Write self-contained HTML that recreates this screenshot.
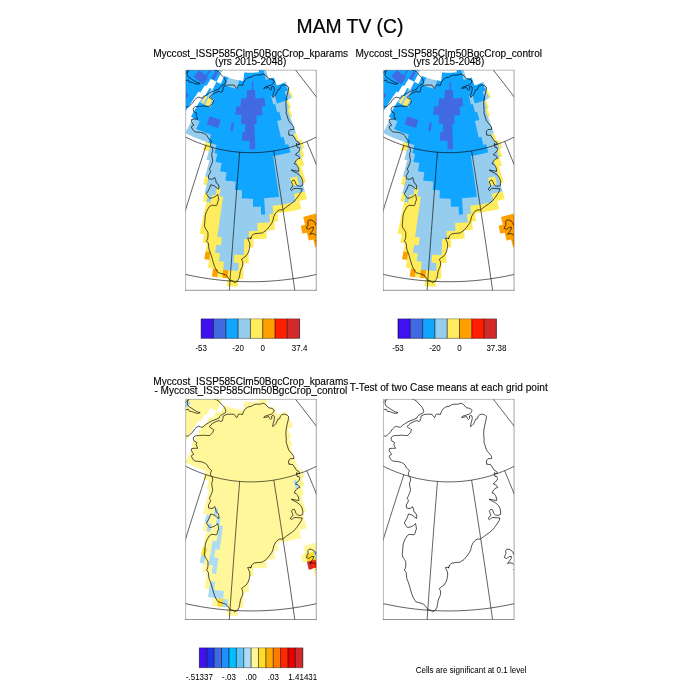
<!DOCTYPE html>
<html><head><meta charset="utf-8"><title>MAM TV (C)</title>
<style>html,body{margin:0;padding:0;background:#fff;overflow:hidden}svg{display:block}text{font-family:'Liberation Sans', sans-serif;fill:#000}</style>
</head><body>
<svg width="700" height="700" viewBox="0 0 700 700">
<rect width="700" height="700" fill="#fff"/>
<defs>
<clipPath id="clip"><rect x="0" y="0" width="130.6" height="220.1"/></clipPath>
<clipPath id="clipf"><rect x="0.3" y="0" width="130.30" height="220.1"/></clipPath>
<g id="lines" fill="none" stroke="#000" stroke-width="0.62" stroke-linejoin="round">
<g clip-path="url(#clip)">
<path d="M64.67 -54.30 L54.98 -46.11 L45.41 -37.90 L35.94 -29.66 L26.57 -21.41 L17.29 -13.13 L8.12 -4.83 L-0.97 3.50 L-9.96 11.86 L-18.87 20.24 L-27.69 28.65 L-36.43 37.10 L-45.09 45.58 L-53.68 54.09 L-62.19 62.63 L-70.62 71.21 L-78.99 79.83 L-87.29 88.49 L-95.52 97.19 L-103.68 105.94 L-111.78 114.73 L-119.83 123.56 L-127.81 132.44 L-135.73 141.38 L-143.60 150.36 L-151.42 159.40 L-159.18 168.49 L-166.89 177.64 L-174.55 186.85 L-182.16 196.12 L-189.73 205.46 M-10.90 60.75 L-14.83 67.10 L-18.73 73.44 L-22.60 79.78 L-26.44 86.12 L-30.26 92.46 L-34.05 98.79 L-37.81 105.12 L-41.55 111.45 L-45.26 117.78 L-48.95 124.11 L-52.61 130.44 L-56.25 136.78 L-59.87 143.11 L-63.46 149.45 L-67.03 155.79 L-70.58 162.13 L-74.10 168.48 L-77.61 174.84 L-81.09 181.19 L-84.55 187.56 L-88.00 193.93 L-91.42 200.31 L-94.82 206.69 L-98.20 213.08 L-101.57 219.49 L-104.91 225.90 L-108.24 232.32 L-111.55 238.75 L-114.84 245.19 L-118.12 251.65 M20.40 75.33 L18.12 82.34 L15.85 89.34 L13.59 96.33 L11.36 103.29 L9.15 110.24 L6.95 117.18 L4.77 124.11 L2.61 131.02 L0.47 137.91 L-1.66 144.80 L-3.77 151.68 L-5.87 158.54 L-7.95 165.40 L-10.01 172.24 L-12.06 179.08 L-14.10 185.92 L-16.12 192.74 L-18.12 199.56 L-20.12 206.38 L-22.09 213.18 L-24.06 219.99 L-26.01 226.79 L-27.95 233.59 L-29.87 240.39 L-31.79 247.19 L-33.69 253.99 L-35.57 260.78 L-37.45 267.58 L-39.31 274.38 L-41.17 281.19 M53.99 82.05 L53.42 89.37 L52.84 96.67 L52.28 103.94 L51.71 111.19 L51.16 118.42 L50.61 125.62 L50.06 132.81 L49.51 139.98 L48.98 147.13 L48.44 154.26 L47.91 161.38 L47.39 168.48 L46.87 175.57 L46.35 182.64 L45.83 189.70 L45.33 196.75 L44.82 203.78 L44.32 210.80 L43.82 217.82 L43.33 224.82 L42.84 231.82 L42.35 238.80 L41.87 245.78 L41.39 252.76 L40.91 259.73 L40.43 266.69 L39.96 273.65 L39.50 280.60 L39.03 287.56 L38.57 294.51 M88.15 80.70 L89.30 87.96 L90.45 95.20 L91.58 102.41 L92.70 109.60 L93.81 116.78 L94.92 123.93 L96.01 131.07 L97.10 138.18 L98.17 145.28 L99.24 152.37 L100.30 159.44 L101.35 166.49 L102.39 173.53 L103.43 180.56 L104.45 187.58 L105.47 194.58 L106.48 201.57 L107.48 208.56 L108.48 215.53 L109.47 222.50 L110.45 229.45 L111.42 236.40 L112.39 243.35 L113.35 250.29 L114.31 257.22 L115.25 264.15 L116.19 271.08 L117.13 278.00 L118.06 284.93 L118.98 291.85 M121.17 71.32 L124.02 78.16 L126.84 84.98 L129.64 91.79 L132.42 98.58 L135.18 105.37 L137.91 112.14 L140.62 118.90 L143.32 125.66 L145.99 132.40 L148.64 139.14 L151.28 145.87 L153.89 152.59 L156.49 159.31 L159.07 166.02 L161.63 172.72 L164.17 179.42 L166.69 186.12 L169.20 192.81 L171.69 199.51 L174.16 206.20 L176.62 212.89 L179.06 219.58 L181.48 226.27 L183.89 232.96 L186.29 239.65 L188.67 246.35 L191.03 253.04 L193.38 259.75 L195.72 266.45 L198.04 273.16 M66.01 -54.18 L74.13 -44.44 L82.14 -34.72 L90.04 -25.02 L97.84 -15.33 L105.55 -5.66 L113.16 4.01 L120.68 13.67 L128.11 23.32 L135.45 32.97 L142.71 42.62 L149.88 52.26 L156.98 61.91 L164.00 71.56 L170.95 81.21 L177.82 90.88 L184.63 100.55 L191.36 110.23 L198.03 119.93 L204.64 129.65 L211.18 139.38 L217.66 149.13 L224.08 158.90 L230.45 168.70 L236.76 178.52 L243.01 188.37 L249.22 198.25 L255.37 208.16 L261.47 218.11 L267.52 228.10 L273.53 238.13 M176.91 30.01 L182.79 34.89 L188.64 39.80 L194.46 44.72 L200.26 49.66 L206.03 54.63 L211.77 59.61 L217.48 64.61 L223.17 69.64 L228.83 74.68 L234.47 79.75 L240.09 84.84 L245.67 89.95 L251.24 95.09 L256.78 100.24 L262.30 105.43 L267.80 110.63 L273.28 115.86 L278.73 121.12 L284.17 126.40 L289.58 131.70 L294.98 137.04 L300.35 142.39 L305.70 147.78 L311.04 153.19 L316.36 158.63 L321.65 164.10 L326.93 169.60 L332.20 175.13 L337.44 180.69 L342.67 186.28 M-163.19 104.08 L-157.22 111.06 L-151.07 117.82 L-144.75 124.35 L-138.27 130.66 L-131.63 136.73 L-124.84 142.58 L-117.91 148.19 L-110.85 153.56 L-103.66 158.71 L-96.35 163.61 L-88.93 168.28 L-81.41 172.71 L-73.78 176.90 L-66.06 180.86 L-58.26 184.57 L-50.37 188.05 L-42.41 191.29 L-34.37 194.28 L-26.28 197.04 L-18.12 199.56 L-9.92 201.84 L-1.67 203.88 L6.63 205.68 L14.96 207.24 L23.32 208.56 L31.70 209.64 L40.11 210.47 L48.53 211.07 L56.96 211.43 L65.40 211.55 L73.84 211.43 L82.27 211.07 L90.69 210.47 L99.10 209.64 L107.48 208.56 L115.84 207.24 L124.17 205.68 L132.47 203.88 L140.72 201.84 L148.92 199.56 L157.08 197.04 L165.17 194.28 L173.21 191.29 L181.17 188.05 L189.06 184.57 L196.86 180.86 L204.58 176.90 L212.21 172.71 L219.73 168.28 L227.15 163.61 L234.46 158.71 L241.65 153.56 L248.71 148.19 L255.64 142.58 L262.43 136.73 L269.07 130.66 L275.55 124.35 L281.87 117.82 L288.02 111.06 L293.99 104.08 M-53.32 20.52 L-50.52 24.40 L-47.61 28.17 L-44.58 31.83 L-41.44 35.38 L-38.20 38.82 L-34.85 42.14 L-31.41 45.34 L-27.87 48.42 L-24.24 51.38 L-20.53 54.22 L-16.74 56.93 L-12.86 59.51 L-8.92 61.95 L-4.91 64.27 L-0.83 66.45 L3.31 68.50 L7.51 70.42 L11.76 72.19 L16.06 73.83 L20.40 75.33 L24.79 76.68 L29.21 77.90 L33.66 78.98 L38.14 79.91 L42.65 80.70 L47.18 81.35 L51.72 81.85 L56.27 82.21 L60.83 82.43 L65.40 82.50 L69.97 82.43 L74.53 82.21 L79.08 81.85 L83.62 81.35 L88.15 80.70 L92.66 79.91 L97.14 78.98 L101.59 77.90 L106.01 76.68 L110.40 75.33 L114.74 73.83 L119.04 72.19 L123.29 70.42 L127.49 68.50 L131.63 66.45 L135.71 64.27 L139.72 61.95 L143.66 59.51 L147.54 56.93 L151.33 54.22 L155.04 51.38 L158.67 48.42 L162.21 45.34 L165.65 42.14 L169.00 38.82 L172.24 35.38 L175.38 31.83 L178.41 28.17 L181.32 24.40 L184.12 20.52"/>
<path d="M3.55 -0.10 L2.05 1.60 L1.55 4.60 L2.55 6.60 L5.55 8.60 L8.55 10.60 L11.55 12.40 L14.55 13.30 L11.55 14.10 L8.55 13.10 L6.05 12.10 L4.05 12.10 L2.75 9.80 L0.15 10.40 M28.55 -0.10 L31.05 0.40 L33.55 2.10 L35.55 4.60 L38.05 7.10 L39.55 9.60 L40.25 12.10 L39.55 13.60 L37.05 14.80 L35.05 16.10 L34.05 17.10 L33.55 18.60 L30.55 19.90 L25.55 21.80 L22.55 23.60 L19.55 25.60 L17.05 27.80 L15.05 27.60 L13.05 26.90 L11.05 27.80 L9.05 29.60 L7.05 32.60 L5.05 34.60 L2.55 36.80 L1.05 36.60 L0.15 35.90 M64.55 6.90 L62.05 7.80 L60.05 9.10 L58.55 11.10 L57.35 13.60 L57.05 15.10 L55.05 14.80 L53.05 14.60 L52.05 16.10 L51.25 18.40 L50.05 17.10 L48.55 14.90 L45.55 14.80 L41.55 14.90 L39.55 15.60 L37.55 16.80 L37.35 19.10 L36.55 21.60 L35.05 22.10 L33.55 21.10 L30.55 22.10 L27.55 23.60 L25.05 25.60 L23.75 27.40 L25.05 28.40 L27.05 29.40 L28.05 30.40 L27.05 33.10 L25.55 34.80 L24.05 36.10 L21.05 36.10 L18.05 35.80 L14.05 36.10 L10.05 36.30 L8.05 37.60 L7.55 39.60 L8.55 41.80 L10.55 42.60 L11.35 43.40 L10.35 44.80 L11.05 46.60 L12.05 48.90 L9.05 48.90 L6.05 49.10 L5.75 51.10 L7.05 53.60 L8.35 54.80 L6.55 55.60 L5.75 56.80 L7.05 59.60 L9.05 61.60 L11.55 61.90 L14.55 62.10 L18.05 63.10 L20.55 64.60 L21.55 65.60 L23.05 68.60 L26.05 71.10 L25.05 73.10 L24.85 75.60 L26.55 77.60 L27.25 80.60 L26.05 83.60 L26.35 87.10 L27.05 90.10 L26.35 93.10 L25.05 96.10 L23.75 99.10 L25.05 101.10 L24.05 103.60 L22.75 105.60 L23.05 108.60 L25.55 109.10 L28.05 108.60 L29.05 107.10 L30.05 109.60 L30.55 112.60 L32.55 114.10 L33.35 116.60 L33.05 119.10 L31.05 117.60 L28.55 115.60 L25.05 114.60 L24.05 117.60 L22.55 120.60 L20.85 123.60 L22.05 125.60 L24.05 128.10 L27.05 127.60 L30.05 126.10 L32.05 124.10 L32.55 126.60 L33.05 129.60 L32.05 131.60 L31.55 134.10 L30.55 135.60 L28.55 135.10 L25.55 135.10 L23.55 136.60 L22.05 139.10 L20.75 141.60 L19.75 144.60 L19.35 148.10 L19.25 151.60 L18.75 155.10 L19.35 157.60 L21.05 160.10 L22.25 162.10 L22.35 165.60 L22.05 168.60 L20.85 170.60 L22.75 173.10 L23.05 176.60 L23.35 179.10 L24.55 182.10 L25.75 185.60 L26.75 189.10 L27.75 192.60 L28.75 195.60 L30.05 198.60 L31.55 201.10 L32.75 202.60 L35.05 203.10 L37.55 203.80 L40.05 204.80 L41.55 206.10 L43.05 208.10 L44.35 210.10 L46.05 210.60 L47.55 211.10 L49.05 212.60 L50.55 211.60 L52.05 210.60 L53.35 208.10 L54.05 205.10 L54.55 201.60 L55.55 198.60 L56.75 196.10 L57.25 193.60 L56.85 191.10 L55.85 189.10 L58.05 187.40 L60.55 185.60 L62.55 182.60 L63.55 179.60 L64.25 175.60 L64.05 172.60 L63.05 170.60 L62.05 168.10 L65.55 167.80 L64.55 168.60 L65.55 168.10 L66.05 165.60 L68.55 163.60 L72.55 163.10 L76.55 162.80 L80.55 160.10 L83.55 156.60 L86.05 153.10 L87.35 150.10 L88.05 146.60 L89.55 143.60 L91.55 141.10 L93.55 139.80 L97.05 139.60 L101.05 136.60 L104.55 134.10 L106.05 133.10 L108.55 131.10 L111.05 128.10 L113.55 124.60 L115.55 121.60 L116.55 118.60 L113.55 118.40 L110.55 118.10 L108.05 118.40 L106.05 120.40 L104.85 119.40 L105.55 117.60 L107.35 116.10 L106.85 114.10 L105.85 111.80 L107.05 110.10 L108.55 109.90 L109.55 111.60 L110.35 114.10 L112.05 115.60 L114.55 116.10 L117.05 115.10 L117.25 112.60 L116.75 109.60 L115.75 107.10 L114.05 105.10 L111.55 103.10 L108.55 101.60 L105.55 99.80 L107.55 100.10 L110.55 100.80 L113.25 101.10 L113.05 98.60 L112.05 96.10 L110.55 94.10 L108.55 93.60 L109.05 92.60 L110.55 90.10 L112.55 88.60 L114.25 88.10 L113.05 86.10 L111.55 85.10 L109.75 84.60 L111.55 82.60 L113.55 81.10 L114.05 79.10 L113.35 77.10 L111.55 77.10 L110.85 75.10 L111.05 73.10 L112.05 74.40 L114.05 73.60 L112.55 71.60 L111.05 71.10 L110.05 69.60 L108.55 67.10 L107.05 65.10 L105.05 65.10 L103.05 64.60 L103.55 64.60 L102.85 62.60 L103.35 60.60 L104.55 59.30 L106.55 59.30 L108.25 59.10 L108.05 57.10 L107.05 55.40 L105.05 53.10 L103.05 50.60 L102.35 48.60 L101.35 45.10 L100.35 42.60 L100.75 40.60 L100.35 36.60 L100.25 32.60 L100.75 28.60 L101.55 24.60 L102.55 20.60 L103.05 17.10 L101.05 15.40 L99.05 14.80 L96.55 15.10 L94.75 16.60 L94.05 19.10 L92.35 19.60 L91.05 22.60 L90.05 24.60 L88.55 26.10 L87.05 27.10 L87.35 24.60 L88.25 21.60 L88.85 19.10 L88.55 16.80 L87.35 15.90 L86.05 16.60 L86.05 19.10 L85.05 20.10 L84.05 19.10 L83.05 17.10 L80.55 17.80 L78.05 18.10 L79.55 16.60 L81.55 16.10 L83.55 15.40 L86.05 14.60 L87.75 13.10 L88.55 11.10 L87.75 9.80 L85.55 8.80 L83.05 8.40 L81.55 6.60 L79.55 4.80 L77.55 3.80 L74.55 4.80 L71.55 4.80 L68.55 5.10 L66.55 6.40 L64.55 7.40Z M130.25 155.10 L129.55 153.10 L128.05 151.10 L125.55 149.80 L123.35 149.80 L122.05 151.60 L122.55 154.10 L121.55 156.10 L120.75 158.10 L123.05 159.10 L126.05 157.10 L128.05 157.10 L127.55 159.10 L126.05 161.60 L124.05 164.10 L126.55 163.40 L128.55 163.80 L130.25 165.10 M129.85 169.90 L130.25 170.40" stroke-width="0.68"/>
</g>
<path d="M0 220.1V0H130.6" stroke-width="0.28" stroke-linecap="square"/><path d="M130.6 0V220.1" stroke-width="0.36"/><path d="M0 220.1H130.6" stroke-width="0.42" stroke-linecap="square"/>
</g>
<g id="fillA" clip-path="url(#clipf)"><mask id="mA" maskUnits="userSpaceOnUse" x="-2" y="-2" width="134.6" height="224.1"><path d="M-0.38 22.03 -0.38 22.03 -0.38 22.03 -1.00 22.79 -1.00 32.39 -0.26 32.93 -0.26 32.93 -0.26 32.93 -1.00 33.98 -1.00 42.61 3.59 35.54 8.27 28.37 13.00 21.20 13.82 21.73 14.65 22.26 19.26 14.98 20.01 15.46 20.78 15.92 25.28 8.54 25.96 8.96 26.65 9.36 26.65 9.36 26.65 9.36 26.66 9.37 26.66 9.36 27.35 9.76 28.04 10.15 28.04 10.15 28.04 10.16 28.05 10.16 28.05 10.16 28.74 10.54 29.44 10.92 29.44 10.92 29.45 10.92 29.45 10.92 29.45 10.92 30.16 11.29 30.86 11.65 27.00 19.35 26.21 18.95 25.42 18.54 24.64 18.13 23.85 17.70 19.71 25.23 18.85 24.76 18.00 24.27 13.73 31.71 13.73 31.71 13.73 31.72 13.73 31.72 13.73 31.72 9.51 39.14 9.51 39.14 9.50 39.14 9.50 39.14 9.50 39.14 5.31 46.55 6.40 47.16 7.49 47.75 7.49 47.75 7.49 47.75 3.49 55.22 3.49 55.21 3.49 55.22 3.49 55.22 3.49 55.22 -0.47 62.68 0.78 63.34 2.03 63.98 2.03 63.98 2.04 63.98 2.04 63.98 2.04 63.98 3.30 64.61 4.56 65.22 4.56 65.22 4.56 65.22 4.57 65.22 4.57 65.22 5.84 65.82 7.11 66.41 7.11 66.41 7.11 66.41 7.12 66.41 7.12 66.41 8.40 66.99 9.68 67.55 9.68 67.55 9.69 67.55 9.69 67.55 9.69 67.55 10.98 68.10 12.27 68.63 12.27 68.63 12.28 68.64 12.28 68.64 12.28 68.64 13.58 69.16 14.88 69.67 14.88 69.67 14.89 69.67 14.89 69.67 14.89 69.67 16.20 70.17 17.51 70.65 17.51 70.65 17.51 70.65 17.52 70.65 17.52 70.65 18.84 71.12 20.16 71.57 20.16 71.57 20.16 71.57 17.48 79.49 18.89 79.96 20.30 80.41 20.30 80.41 20.30 80.41 20.31 80.42 20.31 80.42 21.72 80.85 23.13 81.28 23.13 81.28 23.13 81.28 20.80 89.26 22.31 89.69 23.81 90.11 23.81 90.11 23.81 90.11 21.66 98.10 21.66 98.10 21.65 98.10 21.65 98.11 21.65 98.11 19.52 106.08 19.52 106.08 19.52 106.08 19.52 106.09 19.52 106.09 17.40 114.04 19.15 114.50 20.90 114.93 20.90 114.93 20.90 114.93 18.96 122.89 18.96 122.89 18.96 122.89 18.96 122.90 18.96 122.90 17.03 130.85 18.94 131.30 20.85 131.73 20.85 131.73 20.85 131.73 19.10 139.68 19.10 139.68 19.09 139.68 19.09 139.69 19.09 139.69 17.36 147.61 17.36 147.61 17.36 147.62 17.36 147.62 17.36 147.62 15.63 155.53 15.63 155.53 15.63 155.54 15.63 155.54 15.63 155.54 13.92 163.45 16.14 163.92 18.35 164.36 18.35 164.36 18.35 164.36 16.81 172.27 19.11 172.71 21.40 173.12 21.40 173.12 21.40 173.12 20.01 181.03 20.01 181.03 20.01 181.03 20.01 181.04 20.01 181.04 18.63 188.94 21.08 189.35 23.52 189.74 23.52 189.74 23.52 189.74 22.31 197.65 24.83 198.03 27.35 198.38 27.35 198.38 27.35 198.38 26.28 206.29 28.88 206.63 31.48 206.94 31.48 206.94 31.48 206.94 31.49 206.94 31.49 206.94 34.08 207.23 36.68 207.50 36.68 207.50 36.69 207.50 36.69 207.50 36.69 207.50 39.29 207.74 41.89 207.97 41.89 207.97 41.89 207.97 41.26 215.90 43.94 216.10 46.62 216.28 46.62 216.28 46.62 216.28 46.63 216.28 46.63 216.28 49.30 216.43 51.99 216.56 52.34 208.62 54.95 208.72 57.57 208.80 57.78 200.84 57.99 192.87 60.46 192.92 62.93 192.95 63.01 184.95 63.08 176.95 65.40 176.96 67.73 176.95 67.66 168.92 67.66 168.92 67.66 168.92 69.90 168.89 72.15 168.83 72.15 168.83 72.15 168.83 72.16 168.83 72.16 168.83 74.40 168.76 76.65 168.67 76.65 168.67 76.65 168.67 76.66 168.67 76.66 168.67 78.90 168.55 81.16 168.42 80.63 160.38 80.63 160.38 80.63 160.38 82.80 160.23 84.97 160.06 84.97 160.06 84.97 160.06 84.98 160.06 84.98 160.06 87.14 159.87 89.32 159.66 88.49 151.62 88.49 151.62 88.49 151.62 90.58 151.40 92.67 151.15 91.69 143.11 91.69 143.11 91.69 143.11 93.70 142.85 95.70 142.58 95.70 142.58 95.71 142.57 95.71 142.57 95.71 142.57 97.72 142.28 99.72 141.97 99.72 141.97 99.72 141.97 99.73 141.97 99.73 141.97 101.73 141.63 103.72 141.28 103.72 141.28 103.73 141.28 103.73 141.28 103.73 141.28 105.73 140.91 107.72 140.52 107.72 140.52 107.72 140.52 107.73 140.52 107.73 140.52 109.71 140.11 111.70 139.69 111.70 139.69 111.70 139.69 111.71 139.69 111.71 139.69 113.69 139.24 115.67 138.78 113.77 130.85 113.77 130.85 113.77 130.85 115.66 130.38 117.56 129.89 117.56 129.89 117.56 129.89 117.57 129.89 117.57 129.89 119.46 129.39 121.35 128.86 119.12 120.98 119.12 120.98 119.12 120.98 119.12 120.97 119.12 120.97 116.88 113.08 116.88 113.08 116.88 113.08 118.60 112.58 120.34 112.06 117.91 104.18 117.91 104.18 117.91 104.17 117.91 104.17 117.91 104.17 115.47 96.28 115.47 96.28 115.47 96.28 117.03 95.78 118.60 95.27 115.97 87.39 115.97 87.39 115.97 87.39 117.45 86.89 118.94 86.37 116.13 78.52 116.13 78.52 116.13 78.52 117.52 78.01 118.91 77.49 115.91 69.66 114.60 70.16 113.29 70.64 110.43 62.75 110.43 62.75 110.42 62.75 110.42 62.74 110.42 62.74 107.53 54.84 107.53 54.84 107.53 54.83 107.53 54.83 107.53 54.83 104.61 46.89 104.61 46.89 104.61 46.89 105.68 46.49 106.76 46.08 103.65 38.17 103.65 38.17 103.65 38.17 104.63 37.77 105.62 37.37 102.31 29.49 102.31 29.49 102.31 29.49 103.20 29.11 104.09 28.72 104.09 28.72 104.09 28.72 104.10 28.72 104.10 28.72 104.98 28.32 105.86 27.91 105.86 27.91 105.87 27.90 105.87 27.90 105.87 27.90 106.75 27.48 107.63 27.05 103.80 19.36 103.80 19.36 103.80 19.36 103.80 19.35 103.80 19.35 99.93 11.64 99.21 12.00 98.49 12.35 97.77 12.69 97.04 13.02 96.32 13.34 95.58 13.66 94.85 13.97 94.11 14.27 93.37 14.57 92.63 14.85 91.88 15.13 91.13 15.40 88.23 7.26 87.56 7.50 86.89 7.73 86.22 7.95 85.55 8.16 84.87 8.37 84.19 8.57 83.51 8.76 82.84 8.94 80.60 0.57 80.60 0.57 80.60 0.57 80.60 0.56 80.60 0.56 80.18 -1.00 72.94 -1.00 73.36 2.02 72.75 2.10 72.14 2.18 71.53 2.24 70.92 2.31 70.31 2.36 69.70 2.41 69.08 2.45 68.47 2.49 67.86 2.51 67.24 2.54 66.63 2.55 66.01 2.56 65.40 2.57 64.79 2.56 64.17 2.55 63.56 2.54 62.94 2.51 62.33 2.49 61.72 2.45 61.10 2.41 60.49 2.36 59.88 2.31 59.27 2.24 58.65 2.18 57.66 10.78 56.96 10.70 56.26 10.61 55.57 10.51 54.87 10.40 54.17 10.29 53.48 10.17 52.78 10.04 52.09 9.91 51.40 9.76 50.71 9.61 50.02 9.46 49.34 9.29 48.65 9.12 47.97 8.94 47.29 8.76 46.61 8.57 45.93 8.37 45.25 8.16 44.58 7.95 43.91 7.73 43.24 7.50 42.57 7.26 41.91 7.02 41.25 6.77 40.59 6.52 39.93 6.26 39.28 5.99 38.62 5.71 35.21 13.66 34.48 13.34 33.76 13.02 33.03 12.69 32.31 12.35 31.59 12.00 30.88 11.65 34.78 3.92 37.28 -1.00 -1.00 -1.00 -1.00 21.53ZM123.70 145.12 121.66 145.66 119.61 146.18 117.55 146.68 119.42 154.57 117.30 155.06 115.16 155.54 116.87 163.45 119.08 162.96 121.28 162.46 123.12 170.32 125.40 169.78 127.66 169.21 129.63 177.04 131.60 176.53 131.60 165.82 130.07 160.22 130.07 160.22 130.07 160.22 131.60 159.79 131.60 149.39 129.82 143.39 127.78 143.99 125.74 144.57Z" fill="#fff" fill-rule="evenodd"/></mask><g mask="url(#mA)"><rect x="-1" y="-1" width="132.6" height="222.1" fill="#FFA000"/><path d="M20.01 181.04 22.39 181.44 24.75 181.82 24.75 181.82 24.75 181.82 23.53 189.73 23.53 189.73 23.53 189.74 23.52 189.74 22.93 189.65 22.93 189.65 21.62 198.16 24.75 198.62 26.67 198.89 26.67 198.89 27.27 198.97 27.35 198.38 27.35 198.38 27.36 198.38 27.36 198.38 29.88 198.71 32.40 199.02 32.40 199.02 32.40 199.02 31.48 206.94 30.88 206.87 30.81 207.47 34.02 207.83 37.23 208.16 37.29 207.56 36.69 207.50 37.48 199.57 40.00 199.80 42.53 200.02 42.53 200.02 42.53 200.02 41.89 207.96 41.89 207.96 41.89 207.96 41.89 207.97 41.89 207.97 41.30 207.91 41.30 207.92 40.61 216.45 43.90 216.70 45.98 216.83 45.98 216.84 46.59 216.88 49.27 217.03 52.56 217.19 52.91 209.24 54.93 209.32 58.15 209.42 58.38 200.85 58.58 193.48 60.45 193.52 63.53 193.56 63.61 184.96 63.67 177.55 65.40 177.56 68.34 177.55 68.26 169.51 69.91 169.49 71.57 169.45 71.57 169.45 72.18 169.43 74.43 169.36 76.08 169.29 76.08 169.30 76.69 169.27 78.94 169.15 81.79 168.98 81.27 160.94 82.85 160.83 84.42 160.71 84.42 160.71 85.03 160.66 87.20 160.47 89.98 160.20 89.15 152.15 90.65 151.99 93.34 151.68 92.36 143.63 93.78 143.45 95.19 143.25 95.19 143.25 95.80 143.17 97.81 142.87 99.22 142.65 99.22 142.66 99.83 142.56 101.83 142.23 103.24 141.98 103.24 141.98 103.84 141.87 105.84 141.50 107.25 141.23 107.25 141.23 107.84 141.11 109.84 140.70 111.24 140.40 111.24 140.40 111.84 140.27 113.82 139.83 116.40 139.22 114.49 131.29 115.81 130.96 117.13 130.62 117.13 130.63 117.72 130.47 119.61 129.97 122.09 129.28 119.87 121.40 119.87 121.40 119.70 120.81 117.62 113.49 118.77 113.16 121.09 112.46 118.66 104.58 118.66 104.58 118.48 103.99 116.22 96.67 117.21 96.35 119.36 95.65 116.73 87.77 117.65 87.46 119.70 86.74 116.89 78.88 117.73 78.57 119.69 77.84 116.26 68.88 114.39 69.59 113.65 69.87 111.20 63.11 111.20 63.11 110.99 62.54 108.30 55.20 108.31 55.20 108.09 54.62 105.38 47.25 105.90 47.05 107.54 46.42 104.42 38.50 104.86 38.33 106.40 37.69 103.09 29.81 103.44 29.66 103.79 29.51 103.79 29.51 104.34 29.26 105.23 28.86 105.58 28.70 105.58 28.70 106.13 28.44 107.01 28.02 108.44 27.33 104.61 19.63 104.61 19.63 104.34 19.08 100.20 10.84 98.95 11.46 98.23 11.80 97.52 12.14 96.80 12.47 96.07 12.79 95.35 13.11 94.62 13.42 93.89 13.72 93.15 14.01 92.41 14.29 91.67 14.57 91.50 14.63 88.59 6.50 87.36 6.93 86.70 7.16 86.03 7.38 85.37 7.59 84.70 7.79 84.03 7.99 83.35 8.18 83.26 8.21 81.34 1.00 81.34 1.00 81.18 0.41 80.64 -1.60 72.26 -1.60 72.68 1.51 72.68 1.51 72.08 1.58 71.47 1.65 70.87 1.71 70.26 1.76 69.65 1.81 69.05 1.85 68.44 1.89 67.83 1.91 67.22 1.94 66.62 1.95 66.01 1.96 65.40 1.97 64.79 1.96 64.18 1.95 63.58 1.94 62.97 1.91 62.36 1.89 61.75 1.85 61.15 1.81 60.54 1.76 59.93 1.71 59.33 1.65 58.12 1.51 57.13 10.11 57.04 10.10 56.34 10.01 55.65 9.91 54.96 9.81 54.27 9.70 53.58 9.58 52.90 9.45 52.21 9.32 51.52 9.18 50.84 9.03 50.16 8.87 49.48 8.71 48.80 8.54 48.12 8.36 47.45 8.18 46.77 7.99 46.10 7.79 45.43 7.59 44.77 7.38 44.10 7.16 43.44 6.93 42.78 6.70 42.12 6.46 41.46 6.21 40.81 5.96 40.16 5.70 39.51 5.43 38.31 4.92 34.90 12.87 34.73 12.79 34.00 12.47 33.28 12.14 32.57 11.80 31.85 11.46 31.69 11.38 35.32 4.19 38.26 -1.60 -1.60 -1.60 -1.60 21.81 -1.23 22.12 -1.60 22.58 -1.60 32.70 -1.09 33.07 -1.60 33.79 -1.60 44.64 4.09 35.87 8.78 28.70 13.17 22.03 13.49 22.24 14.83 23.09 19.45 15.81 19.70 15.96 20.98 16.75 25.48 9.37 25.66 9.47 25.83 9.57 25.83 9.57 26.36 9.88 27.05 10.28 27.22 10.38 27.22 10.38 27.76 10.68 28.46 11.07 28.63 11.16 28.63 11.17 29.17 11.45 29.88 11.82 30.06 11.91 26.73 18.55 26.49 18.42 25.70 18.01 24.92 17.60 23.62 16.88 19.47 24.42 19.15 24.24 17.78 23.46 13.51 30.90 13.51 30.90 13.21 31.42 9.28 38.32 9.28 38.32 8.98 38.85 4.49 46.79 6.11 47.69 6.68 47.99 3.24 54.41 3.24 54.41 2.96 54.94 -1.29 62.94 0.51 63.87 1.23 64.24 1.22 64.24 1.77 64.52 3.03 65.15 3.76 65.50 3.76 65.50 4.31 65.77 5.58 66.37 6.32 66.70 6.31 66.71 6.87 66.96 8.15 67.54 8.89 67.86 8.89 67.86 9.45 68.10 10.75 68.65 11.49 68.96 11.49 68.96 12.06 69.19 13.36 69.72 14.11 70.01 14.11 70.01 14.68 70.23 15.99 70.73 16.74 71.00 16.74 71.01 17.32 71.21 18.64 71.68 19.40 71.95 16.72 79.87 18.70 80.53 19.55 80.80 19.55 80.81 20.13 80.99 21.54 81.43 22.39 81.68 20.05 89.67 22.14 90.27 23.07 90.53 21.23 97.37 21.23 97.37 21.07 97.95 19.10 105.34 19.10 105.34 18.94 105.93 16.67 114.47 19.01 115.08 20.17 115.37 18.52 122.17 18.52 122.17 18.37 122.76 16.31 131.29 18.81 131.88 20.13 132.18 18.64 138.96 18.64 138.96 18.51 139.56 16.90 146.90 16.90 146.90 16.77 147.50 15.18 154.82 15.17 154.82 15.05 155.42 13.21 163.91 16.02 164.50 17.65 164.83 16.10 172.75 19.00 173.30 20.70 173.61 19.31 181.53 19.91 181.63 20.01 181.04ZM20.01 181.04 20.01 181.03 20.01 181.03 20.01 181.03ZM36.69 207.50 36.69 207.50 36.68 207.50 36.68 207.50ZM31.48 206.94 31.49 206.94 31.49 206.94ZM31.48 206.94 31.48 206.94 31.48 206.94Z" fill="#FFEC5C" fill-rule="evenodd"/><path d="M18.96 122.90 20.79 123.34 22.62 123.75 22.62 123.75 22.62 123.75 20.85 131.73 20.26 131.60 20.13 132.19 20.72 132.32 20.85 131.73 20.85 131.73 22.77 132.14 24.69 132.54 26.30 124.54 28.14 124.90 29.99 125.25 31.47 117.20 33.23 117.51 35.00 117.81 35.00 117.81 35.00 117.81 33.68 125.89 35.54 126.18 37.39 126.45 37.39 126.45 37.39 126.45 36.23 134.52 36.23 134.52 36.23 134.52 36.23 134.53 36.23 134.53 35.09 142.56 35.09 142.56 35.09 142.57 35.09 142.57 35.09 142.57 33.95 150.59 33.95 150.59 33.95 150.60 33.95 150.60 33.95 150.60 32.83 158.60 32.83 158.60 32.83 158.60 32.83 158.61 32.83 158.61 31.71 166.60 33.95 166.90 36.18 167.18 36.18 167.18 36.18 167.18 35.23 175.15 32.92 174.87 30.61 174.56 29.51 182.52 31.90 182.84 34.28 183.13 34.28 183.13 34.28 183.13 33.34 191.08 35.80 191.36 38.25 191.62 38.25 191.62 38.25 191.62 37.47 199.57 40.00 199.80 42.53 200.02 42.53 200.02 42.54 200.02 42.54 200.02 42.54 200.02 45.08 200.21 47.61 200.39 47.61 200.39 47.61 200.39 47.62 200.39 47.62 200.39 50.15 200.53 52.70 200.66 53.06 192.68 50.58 192.55 48.12 192.41 48.63 184.44 51.02 184.58 53.41 184.70 53.41 184.70 53.41 184.70 53.42 184.70 53.42 184.70 55.81 184.80 58.21 184.87 58.43 176.86 58.65 168.83 60.90 168.89 63.15 168.92 63.23 160.87 65.40 160.88 67.57 160.87 67.57 160.87 67.58 160.87 67.58 160.87 67.58 160.87 69.75 160.84 71.94 160.79 71.71 152.72 71.71 152.72 71.71 152.72 73.81 152.65 75.90 152.56 75.90 152.56 75.91 152.56 75.91 152.56 75.91 152.56 78.01 152.45 80.10 152.33 80.10 152.33 80.10 152.33 80.11 152.33 80.11 152.33 82.20 152.18 84.30 152.01 83.62 143.94 83.62 143.94 83.62 143.94 85.64 143.76 87.66 143.56 86.82 135.48 86.82 135.48 86.82 135.48 88.75 135.27 90.69 135.04 90.69 135.04 90.69 135.04 90.70 135.04 90.70 135.04 92.63 134.79 94.56 134.53 94.56 134.53 94.56 134.53 94.57 134.53 94.57 134.53 96.50 134.24 98.42 133.94 98.42 133.94 98.43 133.94 98.43 133.94 98.43 133.94 100.35 133.62 102.27 133.28 102.27 133.28 102.28 133.27 102.28 133.27 102.28 133.27 104.20 132.92 106.11 132.54 106.11 132.54 106.12 132.54 106.12 132.54 106.12 132.54 108.03 132.14 109.95 131.73 108.18 123.75 108.18 123.75 108.18 123.75 110.01 123.34 111.83 122.90 111.83 122.90 111.84 122.90 111.84 122.90 111.84 122.90 113.66 122.45 115.48 121.98 115.48 121.98 115.49 121.98 115.49 121.98 115.49 121.98 117.31 121.49 119.12 120.98 119.12 120.98 119.29 121.56 119.87 121.40 117.62 113.50 117.62 113.50 117.45 112.92 116.88 113.08 116.88 113.08 116.87 113.08 116.87 113.07 116.87 113.07 114.61 105.16 114.61 105.16 114.60 105.16 114.60 105.15 114.60 105.15 112.31 97.22 112.31 97.22 112.31 97.22 112.31 97.21 112.31 97.21 110.00 89.26 110.00 89.26 110.00 89.26 111.50 88.82 112.99 88.36 112.99 88.36 112.99 88.36 113.00 88.36 113.00 88.36 114.48 87.88 115.97 87.39 116.16 87.96 116.73 87.77 116.54 87.20 115.97 87.39 113.32 79.49 113.32 79.49 113.32 79.49 114.72 79.01 116.13 78.52 116.33 79.08 116.90 78.88 116.69 78.31 116.13 78.52 113.29 70.64 111.96 71.11 110.64 71.56 107.94 63.63 107.94 63.63 107.94 63.63 109.18 63.20 110.43 62.75 110.43 62.75 110.63 63.32 111.20 63.11 108.30 55.20 108.31 55.20 108.09 54.62 105.39 47.25 105.39 47.25 105.18 46.68 104.61 46.89 104.61 46.89 104.61 46.89 104.61 46.88 104.61 46.88 101.66 38.93 101.66 38.93 101.66 38.93 102.65 38.55 103.65 38.17 100.50 30.23 100.50 30.23 100.50 30.23 101.40 29.87 102.30 29.50 102.30 29.50 102.30 29.49 102.31 29.49 102.54 30.05 102.54 30.04 103.44 29.66 103.79 29.51 103.79 29.51 104.34 29.26 105.23 28.86 106.67 28.19 106.42 27.64 105.87 27.90 102.21 20.14 102.21 20.14 102.21 20.14 103.00 19.76 103.80 19.36 103.80 19.36 104.07 19.90 104.61 19.63 100.20 10.84 98.95 11.46 98.23 11.80 97.52 12.14 96.80 12.47 96.07 12.79 95.35 13.11 94.62 13.42 93.89 13.72 93.15 14.01 92.41 14.29 91.67 14.57 91.50 14.63 88.59 6.50 87.36 6.93 86.70 7.16 86.03 7.38 85.37 7.59 84.70 7.79 84.03 7.99 83.35 8.18 83.26 8.21 81.34 1.00 81.34 1.00 81.18 0.41 80.64 -1.60 72.26 -1.60 72.68 1.51 72.68 1.51 72.08 1.58 71.47 1.65 70.87 1.71 70.26 1.76 69.65 1.81 69.05 1.85 68.44 1.89 67.83 1.91 67.22 1.94 66.62 1.95 66.01 1.96 65.40 1.97 64.79 1.96 64.18 1.95 63.58 1.94 62.97 1.91 62.36 1.89 61.75 1.85 61.15 1.81 60.54 1.76 59.93 1.71 59.33 1.65 58.12 1.51 57.13 10.11 57.04 10.10 56.34 10.01 55.65 9.91 54.96 9.81 54.27 9.70 53.58 9.58 52.90 9.45 52.21 9.32 51.52 9.18 50.84 9.03 50.16 8.87 49.48 8.71 48.80 8.54 48.12 8.36 47.45 8.18 46.77 7.99 46.10 7.79 45.43 7.59 44.77 7.38 44.10 7.16 43.44 6.93 42.78 6.70 42.12 6.46 41.46 6.21 40.81 5.96 40.16 5.70 39.51 5.43 38.31 4.92 34.90 12.87 34.73 12.79 34.00 12.47 33.28 12.14 32.57 11.80 31.85 11.46 31.69 11.38 35.32 4.19 38.26 -1.60 -1.60 -1.60 -1.60 21.81 -1.23 22.12 -1.60 22.58 -1.60 32.70 -1.09 33.07 -1.60 33.79 -1.60 44.64 4.09 35.87 8.78 28.70 13.17 22.03 13.49 22.24 14.83 23.09 19.45 15.81 19.70 15.96 20.98 16.75 25.48 9.37 25.66 9.47 25.83 9.57 25.83 9.57 26.36 9.88 27.05 10.28 27.22 10.38 27.22 10.38 27.76 10.68 28.46 11.07 28.63 11.16 28.63 11.17 29.17 11.45 29.88 11.82 30.06 11.91 26.73 18.55 26.49 18.42 25.70 18.01 24.92 17.60 23.62 16.88 19.47 24.42 19.15 24.24 17.78 23.46 13.51 30.90 13.51 30.90 13.21 31.42 9.28 38.32 9.28 38.32 8.98 38.85 4.49 46.79 6.11 47.69 6.68 47.99 3.24 54.41 3.24 54.41 2.96 54.94 -1.29 62.94 0.51 63.87 1.23 64.24 1.22 64.24 1.77 64.52 3.03 65.15 3.76 65.50 3.76 65.50 4.31 65.77 5.58 66.37 6.32 66.70 6.31 66.71 6.87 66.96 8.15 67.54 8.89 67.86 8.89 67.86 9.45 68.10 10.75 68.65 11.49 68.96 11.49 68.96 12.06 69.19 13.36 69.72 14.11 70.01 14.11 70.01 14.68 70.23 15.99 70.73 16.74 71.00 16.74 71.01 17.32 71.21 18.64 71.68 19.39 71.95 19.39 71.95 19.96 72.14 20.16 71.57 20.16 71.57 20.16 71.58 20.16 71.58 21.49 72.02 22.82 72.45 22.82 72.45 22.82 72.45 22.83 72.45 22.83 72.45 24.16 72.86 25.49 73.27 25.49 73.27 25.49 73.27 23.14 81.27 23.14 81.27 23.14 81.27 23.13 81.28 22.56 81.10 22.56 81.11 20.05 89.67 22.14 90.27 23.07 90.53 21.23 97.37 21.23 97.37 21.07 97.95 18.78 106.51 19.36 106.67 19.52 106.09 19.52 106.09 21.19 106.52 22.86 106.94 22.86 106.94 22.86 106.94 20.90 114.92 20.90 114.92 20.90 114.93 20.90 114.93 20.90 114.93 20.32 114.79 20.31 114.79 18.23 123.34 18.81 123.48 18.96 122.90ZM110.43 62.75 110.42 62.74 110.42 62.74 110.42 62.75ZM19.52 106.09 19.52 106.08 19.52 106.08 19.52 106.08 21.65 98.11ZM18.96 122.90 18.96 122.89 18.96 122.89ZM18.96 122.89 18.96 122.89 18.96 122.89ZM119.12 120.97 119.12 120.97 119.12 120.98ZM109.90 114.92 108.14 115.34 106.39 115.74 104.59 107.73 104.59 107.73 104.59 107.73 106.26 107.35 107.93 106.94 107.93 106.94 107.94 106.94 107.94 106.94 107.94 106.94 109.61 106.52 111.27 106.09 113.38 114.03 111.64 114.49ZM105.87 27.90 105.87 27.90 105.86 27.91 105.86 27.91ZM99.93 11.64 103.80 19.35 103.80 19.35 103.80 19.36ZM82.84 8.94 80.60 0.57 82.84 8.94 83.51 8.76ZM73.36 2.02 72.75 2.10 73.36 2.02ZM23.18 27.06 24.05 27.48 24.93 27.90 24.93 27.90 24.93 27.90 24.94 27.91 24.94 27.91 25.82 28.32 26.70 28.72 26.70 28.72 26.70 28.72 23.23 36.52 22.27 36.08 21.30 35.64 20.34 35.18 19.39 34.72ZM20.57 25.71 21.43 26.17 21.43 26.17 21.43 26.17 17.48 33.75 16.54 33.26 15.60 32.76 19.71 25.25ZM103.65 38.17 103.65 38.17 103.87 38.73 104.43 38.51 104.20 37.94 103.65 38.17ZM113.08 70.07 113.29 70.64 113.85 70.43 113.65 69.87Z" fill="#96CDEE" fill-rule="evenodd"/><path d="M27.00 19.36 27.80 19.76 28.59 20.14 28.59 20.14 28.59 20.14 24.93 27.90 25.82 28.32 26.70 28.72 26.70 28.72 26.71 28.72 26.71 28.72 26.71 28.72 27.60 29.11 28.49 29.49 28.49 29.49 28.49 29.49 25.19 37.36 24.21 36.94 23.24 36.52 22.27 36.08 21.30 35.64 20.34 35.18 19.38 34.72 18.43 34.24 17.48 33.75 16.54 33.26 15.60 32.75 14.67 32.24 13.73 31.71 14.03 31.19 13.51 30.90 9.28 38.32 9.28 38.32 8.98 38.85 4.49 46.79 6.11 47.69 6.67 47.99 6.67 47.99 7.20 48.28 7.49 47.75 7.49 47.75 7.49 47.75 7.49 47.76 7.49 47.76 8.58 48.33 9.68 48.90 9.68 48.90 9.69 48.90 9.69 48.91 9.69 48.91 10.79 49.46 11.90 50.01 11.90 50.01 11.90 50.01 11.91 50.01 11.91 50.01 13.02 50.54 14.13 51.06 14.13 51.06 14.13 51.06 10.61 58.75 11.82 59.29 13.02 59.82 13.02 59.82 13.02 59.82 13.03 59.83 13.03 59.83 14.24 60.34 15.45 60.85 15.45 60.85 15.46 60.85 15.46 60.85 15.46 60.85 16.68 61.35 17.90 61.83 17.90 61.83 17.91 61.83 17.91 61.83 17.91 61.83 19.14 62.30 20.37 62.75 20.37 62.75 20.38 62.75 20.38 62.76 20.38 62.76 21.62 63.20 22.86 63.63 22.86 63.63 22.86 63.63 22.87 63.63 22.87 63.63 24.11 64.05 25.36 64.46 25.36 64.46 25.36 64.46 22.82 72.45 24.16 72.86 25.49 73.27 25.49 73.27 25.50 73.27 25.50 73.27 25.50 73.27 26.84 73.66 28.18 74.03 28.18 74.03 28.19 74.03 28.19 74.04 28.19 74.04 29.54 74.40 30.89 74.74 30.89 74.74 30.89 74.74 28.85 82.83 30.29 83.19 31.73 83.52 31.73 83.52 31.73 83.52 29.87 91.62 31.40 91.96 32.92 92.29 32.92 92.29 32.92 92.29 32.93 92.29 32.93 92.29 34.45 92.60 35.98 92.89 35.98 92.89 35.98 92.89 34.46 101.02 36.08 101.31 37.69 101.59 37.69 101.59 37.69 101.59 37.70 101.59 37.70 101.59 39.31 101.85 40.93 102.09 40.93 102.09 40.93 102.09 39.73 110.24 41.44 110.48 43.14 110.70 43.14 110.70 43.14 110.70 43.15 110.70 43.15 110.70 44.85 110.91 46.55 111.10 46.55 111.10 46.56 111.10 46.56 111.10 46.56 111.10 48.26 111.27 49.97 111.43 49.97 111.43 49.97 111.43 49.26 119.60 51.06 119.74 52.84 119.87 52.84 119.87 52.85 119.87 52.85 119.87 52.85 119.87 54.64 119.98 56.43 120.08 56.43 120.08 56.43 120.08 56.04 128.24 57.91 128.32 59.78 128.38 59.78 128.38 59.78 128.38 59.79 128.38 59.79 128.38 61.66 128.42 63.52 128.45 63.52 128.45 63.53 128.45 63.53 128.45 63.53 128.45 65.40 128.46 67.27 128.45 67.34 136.59 69.30 136.56 71.24 136.52 71.24 136.52 71.25 136.52 71.25 136.52 71.25 136.52 73.20 136.45 75.14 136.37 75.52 144.48 77.55 144.37 79.58 144.25 79.04 136.15 79.04 136.15 79.04 136.14 79.04 136.14 79.04 136.14 78.50 128.02 78.50 128.02 78.50 128.02 80.37 127.89 82.23 127.74 82.23 127.74 82.23 127.74 82.24 127.74 82.24 127.74 84.10 127.57 85.96 127.38 85.96 127.38 85.97 127.38 85.97 127.38 85.97 127.38 87.83 127.18 89.68 126.95 89.68 126.95 89.69 126.95 89.69 126.95 89.69 126.95 91.55 126.71 93.41 126.45 92.24 118.36 92.24 118.36 92.24 118.36 92.24 118.35 92.24 118.35 91.07 110.24 91.07 110.24 91.06 110.24 91.06 110.23 91.06 110.23 89.87 102.09 89.87 102.09 89.87 102.09 89.87 102.09 89.87 102.09 88.67 93.92 88.67 93.92 88.67 93.92 88.67 93.91 88.67 93.91 87.46 85.72 87.46 85.72 87.46 85.72 88.91 85.50 90.37 85.26 90.37 85.26 90.37 85.26 90.38 85.26 90.38 85.26 91.83 85.01 93.27 84.74 93.27 84.74 93.28 84.74 93.28 84.74 93.28 84.74 94.73 84.46 96.17 84.16 96.17 84.16 96.18 84.16 96.18 84.16 96.18 84.16 97.62 83.85 99.06 83.53 99.06 83.53 99.07 83.53 99.07 83.52 99.07 83.52 100.51 83.19 101.94 82.83 101.94 82.83 101.94 82.83 101.95 82.83 101.95 82.83 103.38 82.47 104.81 82.08 102.61 74.02 101.26 74.39 99.91 74.73 97.85 66.62 96.57 66.94 95.30 67.24 93.39 59.07 93.39 59.07 93.39 59.07 93.39 59.06 93.39 59.06 91.45 50.86 91.45 50.86 91.45 50.86 92.56 50.59 93.67 50.31 93.67 50.31 93.67 50.31 93.68 50.31 93.68 50.31 94.78 50.02 95.89 49.72 93.60 41.55 92.57 41.83 91.55 42.10 89.41 33.86 88.46 34.10 87.52 34.33 85.53 26.03 85.53 26.03 85.53 26.03 86.38 25.82 87.23 25.60 87.23 25.60 87.24 25.60 87.24 25.60 87.24 25.60 88.09 25.37 88.94 25.14 91.28 33.36 92.22 33.09 93.14 32.81 93.14 32.81 93.15 32.81 93.15 32.81 93.15 32.81 94.08 32.52 95.00 32.23 95.00 32.23 95.00 32.22 95.01 32.22 95.01 32.22 95.93 31.92 96.84 31.60 96.84 31.60 96.85 31.60 96.85 31.60 96.85 31.60 97.77 31.27 98.68 30.94 98.68 30.94 98.68 30.94 98.69 30.93 98.69 30.93 99.59 30.59 100.49 30.24 100.49 30.24 100.50 30.23 100.50 30.23 100.50 30.23 101.40 29.87 102.31 29.49 102.54 30.05 103.10 29.81 102.86 29.26 102.31 29.49 98.97 21.59 98.97 21.59 98.97 21.59 99.78 21.24 100.58 20.89 100.58 20.89 100.59 20.89 100.59 20.88 100.59 20.88 101.40 20.52 102.21 20.14 98.50 12.34 97.77 12.69 98.49 12.35 99.04 12.08 98.78 11.55 97.52 12.14 96.80 12.47 96.07 12.79 95.35 13.11 94.62 13.42 93.89 13.72 93.15 14.01 92.41 14.29 91.67 14.57 91.50 14.63 88.59 6.50 87.36 6.93 86.70 7.16 86.03 7.38 85.37 7.59 84.70 7.79 84.03 7.99 83.35 8.18 82.68 8.36 82.84 8.94 83.51 8.76 82.83 8.94 82.15 9.12 81.46 9.29 80.78 9.46 80.09 9.61 78.21 1.16 78.21 1.16 78.21 1.16 78.21 1.15 78.21 1.15 77.73 -1.00 78.34 -1.00 78.21 -1.60 72.26 -1.60 72.68 1.51 72.68 1.51 72.08 1.58 71.47 1.65 70.87 1.71 70.26 1.76 69.65 1.81 69.05 1.85 68.44 1.89 67.83 1.91 67.22 1.94 66.62 1.95 66.01 1.96 65.40 1.97 64.79 1.96 64.18 1.95 63.58 1.94 62.97 1.91 62.36 1.89 61.75 1.85 61.15 1.81 60.54 1.76 59.93 1.71 59.33 1.65 58.12 1.51 57.13 10.11 57.04 10.10 56.34 10.01 55.65 9.91 54.96 9.81 54.27 9.70 52.99 9.47 52.88 10.06 53.48 10.17 53.47 10.17 51.96 18.66 51.18 18.51 50.40 18.36 49.62 18.20 48.85 18.04 48.07 17.86 47.30 17.68 46.52 17.49 45.75 17.29 44.99 17.08 44.22 16.86 43.46 16.64 42.69 16.41 41.93 16.17 41.18 15.92 40.42 15.67 39.68 15.40 42.58 7.27 42.57 7.26 43.15 7.46 43.34 6.91 42.12 6.46 41.46 6.21 40.81 5.96 40.16 5.70 39.51 5.43 38.31 4.92 34.90 12.87 34.73 12.79 34.00 12.47 33.28 12.14 32.57 11.80 31.85 11.46 31.69 11.38 35.59 3.65 35.06 3.38 34.78 3.92 30.88 11.65 34.78 3.91 34.15 3.59 33.52 3.25 32.90 2.92 32.28 2.58 34.29 -1.00 34.98 -1.00 35.32 -1.60 -1.60 -1.60 -1.60 21.81 -1.23 22.12 -1.60 22.58 -1.60 32.70 -1.09 33.07 -1.60 33.79 -1.60 44.64 4.09 35.87 8.78 28.70 13.17 22.03 13.49 22.24 14.83 23.09 19.45 15.81 19.70 15.96 20.98 16.75 25.48 9.37 25.66 9.47 25.83 9.57 25.83 9.57 26.36 9.88 27.05 10.28 27.22 10.38 27.22 10.38 27.76 10.68 28.46 11.07 28.63 11.16 28.63 11.17 29.17 11.45 29.88 11.82 30.06 11.91 26.47 19.08 27.00 19.35 30.86 11.65ZM13.73 31.72 13.73 31.72 13.73 31.72 13.73 31.71ZM19.70 25.24 20.57 25.71 21.43 26.17 25.43 18.55 25.42 18.54 25.96 18.82 26.24 18.30 24.92 17.60 23.62 16.88 19.18 24.94 19.71 25.23 23.85 17.70Z" fill="#10A5FF" fill-rule="evenodd"/><path d="M51.86 35.98 50.90 35.83 49.60 44.24 50.66 44.40 51.70 44.54 51.70 44.54 51.70 44.54 51.71 44.54 51.71 44.54 52.75 44.67 53.80 44.80 53.80 44.80 53.80 44.80 53.81 44.80 53.81 44.80 54.85 44.91 55.90 45.01 55.90 45.01 55.90 45.01 55.13 53.43 56.27 53.53 57.41 53.62 57.41 53.62 57.41 53.62 57.42 53.62 57.42 53.62 58.55 53.69 59.69 53.75 59.69 53.75 59.69 53.75 59.27 62.15 58.05 62.08 56.82 62.00 56.23 70.37 57.54 70.46 58.85 70.53 58.85 70.53 58.85 70.53 58.86 70.53 58.86 70.53 60.16 70.59 61.46 70.63 61.46 70.63 61.47 70.63 61.47 70.63 61.47 70.63 62.78 70.67 64.08 70.69 64.08 70.69 64.08 70.69 64.00 79.03 65.40 79.04 66.79 79.03 66.79 79.03 66.79 79.03 66.80 79.03 66.80 79.03 68.19 79.01 69.58 78.98 69.34 70.63 69.34 70.63 69.33 70.63 69.33 70.62 69.33 70.62 69.08 62.26 69.08 62.26 69.08 62.25 69.08 62.25 69.08 62.25 68.83 53.85 68.83 53.85 68.83 53.85 69.97 53.81 71.11 53.75 70.69 45.31 70.69 45.31 70.69 45.31 71.74 45.25 72.78 45.18 72.78 45.18 72.79 45.18 72.79 45.18 72.79 45.18 73.84 45.10 74.89 45.01 74.89 45.01 74.90 45.01 74.90 45.01 74.90 45.01 75.95 44.91 77.00 44.80 76.05 36.36 76.05 36.36 76.05 36.36 77.01 36.24 77.97 36.12 77.97 36.12 77.98 36.12 77.98 36.12 77.98 36.12 78.94 35.99 79.90 35.84 78.59 27.39 77.72 27.53 76.84 27.65 75.97 27.76 75.09 27.87 74.21 27.96 73.33 28.05 72.45 28.12 71.57 28.19 70.69 28.25 69.82 28.30 69.37 19.74 68.58 19.78 67.79 19.80 67.52 11.19 66.81 11.21 66.10 11.22 66.19 19.84 65.40 19.84 64.61 19.84 63.81 19.82 63.02 19.80 62.22 19.78 61.43 19.74 60.98 28.30 60.11 28.25 59.23 28.19 58.35 28.12 57.47 28.05 56.59 27.96 55.71 27.86 54.75 36.35 53.79 36.23 52.83 36.11ZM47.07 60.93 48.34 52.60 47.20 52.42 46.07 52.23 44.64 60.54 45.85 60.74ZM25.59 55.66 25.59 55.66 25.59 55.66 25.60 55.66 25.60 55.66 26.76 56.06 27.93 56.44 27.93 56.44 27.93 56.44 27.94 56.44 27.94 56.44 29.11 56.81 30.28 57.17 30.28 57.17 30.29 57.17 30.29 57.17 30.29 57.17 31.47 57.52 32.66 57.85 34.92 49.71 33.82 49.40 32.72 49.07 31.62 48.73 30.53 48.39 29.44 48.03 28.35 47.66 27.27 47.28 26.19 46.89 25.12 46.48 24.04 46.07 20.96 53.96 22.11 54.41 23.27 54.84 23.27 54.84 23.27 54.84 23.27 54.84 23.27 54.84 24.43 55.26ZM31.05 1.87 30.44 1.50 29.83 1.13 25.27 8.54 25.28 8.54 24.97 9.06 25.66 9.47 25.83 9.57 25.83 9.57 26.36 9.88 27.05 10.28 28.28 10.98 28.57 10.45 28.05 10.16 32.28 2.58 31.66 2.22ZM28.04 10.16 28.05 10.16 28.04 10.16ZM28.04 10.16 28.04 10.15 28.04 10.15ZM18.67 3.99 18.04 3.50 17.41 3.00 16.78 2.50 16.16 1.98 15.55 1.46 14.94 0.94 14.34 0.41 13.73 -0.14 7.88 6.33 8.56 6.93 9.23 7.51 9.23 7.51 9.23 7.52 9.24 7.52 9.24 7.52 9.91 8.10 10.60 8.67 10.60 8.67 10.60 8.67 10.60 8.68 10.60 8.68 11.29 9.24 11.99 9.80 11.99 9.80 11.99 9.80 11.99 9.80 11.99 9.80 12.69 10.35 13.40 10.90 13.40 10.90 13.40 10.90 13.41 10.90 13.41 10.90 14.12 11.44 14.83 11.96 14.83 11.96 14.84 11.97 14.84 11.97 14.84 11.97 15.56 12.49 16.29 13.00 16.29 13.00 16.29 13.00 16.30 13.01 16.30 13.01 17.03 13.51 17.77 14.01 22.59 6.80 21.92 6.35 21.27 5.90 26.13 -1.00 26.86 -1.00 27.29 -1.60 24.04 -1.60 23.60 -1.00 24.34 -1.00 19.96 4.95 19.31 4.48ZM2.15 24.03 1.31 23.37 0.46 22.70 -0.38 22.03 -0.38 22.03 -0.38 22.03 -0.38 22.03 -0.85 21.65 -1.60 22.58 -1.60 31.87 -1.00 31.07 -1.00 30.06 3.01 24.68Z" fill="#4169E1" fill-rule="evenodd"/></g></g>
<g id="fillC" clip-path="url(#clipf)"><mask id="mC" maskUnits="userSpaceOnUse" x="-2" y="-2" width="134.6" height="224.1"><path d="M-0.38 22.03 -0.38 22.03 -0.38 22.03 -1.00 22.79 -1.00 32.39 -0.26 32.93 -0.26 32.93 -0.26 32.93 -1.00 33.98 -1.00 42.61 3.59 35.54 8.27 28.37 13.00 21.20 13.82 21.73 14.65 22.26 19.26 14.98 20.01 15.46 20.78 15.92 25.28 8.54 25.96 8.96 26.65 9.36 26.65 9.36 26.65 9.36 26.66 9.37 26.66 9.36 27.35 9.76 28.04 10.15 28.04 10.15 28.04 10.16 28.05 10.16 28.05 10.16 28.74 10.54 29.44 10.92 29.44 10.92 29.45 10.92 29.45 10.92 29.45 10.92 30.16 11.29 30.86 11.65 27.00 19.35 26.21 18.95 25.42 18.54 24.64 18.13 23.85 17.70 19.71 25.23 18.85 24.76 18.00 24.27 13.73 31.71 13.73 31.71 13.73 31.72 13.73 31.72 13.73 31.72 9.51 39.14 9.51 39.14 9.50 39.14 9.50 39.14 9.50 39.14 5.31 46.55 6.40 47.16 7.49 47.75 7.49 47.75 7.49 47.75 3.49 55.22 3.49 55.21 3.49 55.22 3.49 55.22 3.49 55.22 -0.47 62.68 0.78 63.34 2.03 63.98 2.03 63.98 2.04 63.98 2.04 63.98 2.04 63.98 3.30 64.61 4.56 65.22 4.56 65.22 4.56 65.22 4.57 65.22 4.57 65.22 5.84 65.82 7.11 66.41 7.11 66.41 7.11 66.41 7.12 66.41 7.12 66.41 8.40 66.99 9.68 67.55 9.68 67.55 9.69 67.55 9.69 67.55 9.69 67.55 10.98 68.10 12.27 68.63 12.27 68.63 12.28 68.64 12.28 68.64 12.28 68.64 13.58 69.16 14.88 69.67 14.88 69.67 14.89 69.67 14.89 69.67 14.89 69.67 16.20 70.17 17.51 70.65 17.51 70.65 17.51 70.65 17.52 70.65 17.52 70.65 18.84 71.12 20.16 71.57 20.16 71.57 20.16 71.57 17.48 79.49 18.89 79.96 20.30 80.41 20.30 80.41 20.30 80.41 20.31 80.42 20.31 80.42 21.72 80.85 23.13 81.28 23.13 81.28 23.13 81.28 20.80 89.26 22.31 89.69 23.81 90.11 23.81 90.11 23.81 90.11 21.66 98.10 21.66 98.10 21.65 98.10 21.65 98.11 21.65 98.11 19.52 106.08 19.52 106.08 19.52 106.08 19.52 106.09 19.52 106.09 17.40 114.04 19.15 114.50 20.90 114.93 20.90 114.93 20.90 114.93 18.96 122.89 18.96 122.89 18.96 122.89 18.96 122.90 18.96 122.90 17.03 130.85 18.94 131.30 20.85 131.73 20.85 131.73 20.85 131.73 19.10 139.68 19.10 139.68 19.09 139.68 19.09 139.69 19.09 139.69 17.36 147.61 17.36 147.61 17.36 147.62 17.36 147.62 17.36 147.62 15.63 155.53 15.63 155.53 15.63 155.54 15.63 155.54 15.63 155.54 13.92 163.45 16.14 163.92 18.35 164.36 18.35 164.36 18.35 164.36 16.81 172.27 19.11 172.71 21.40 173.12 21.40 173.12 21.40 173.12 20.01 181.03 20.01 181.03 20.01 181.03 20.01 181.04 20.01 181.04 18.63 188.94 21.08 189.35 23.52 189.74 23.52 189.74 23.52 189.74 22.31 197.65 24.83 198.03 27.35 198.38 27.35 198.38 27.35 198.38 26.28 206.29 28.88 206.63 31.48 206.94 31.48 206.94 31.48 206.94 31.49 206.94 31.49 206.94 34.08 207.23 36.68 207.50 36.68 207.50 36.69 207.50 36.69 207.50 36.69 207.50 39.29 207.74 41.89 207.97 41.89 207.97 41.89 207.97 41.26 215.90 43.94 216.10 46.62 216.28 46.62 216.28 46.62 216.28 46.63 216.28 46.63 216.28 49.30 216.43 51.99 216.56 52.34 208.62 54.95 208.72 57.57 208.80 57.78 200.84 57.99 192.87 60.46 192.92 62.93 192.95 63.01 184.95 63.08 176.95 65.40 176.96 67.73 176.95 67.66 168.92 67.66 168.92 67.66 168.92 69.90 168.89 72.15 168.83 72.15 168.83 72.15 168.83 72.16 168.83 72.16 168.83 74.40 168.76 76.65 168.67 76.65 168.67 76.65 168.67 76.66 168.67 76.66 168.67 78.90 168.55 81.16 168.42 80.63 160.38 80.63 160.38 80.63 160.38 82.80 160.23 84.97 160.06 84.97 160.06 84.97 160.06 84.98 160.06 84.98 160.06 87.14 159.87 89.32 159.66 88.49 151.62 88.49 151.62 88.49 151.62 90.58 151.40 92.67 151.15 91.69 143.11 91.69 143.11 91.69 143.11 93.70 142.85 95.70 142.58 95.70 142.58 95.71 142.57 95.71 142.57 95.71 142.57 97.72 142.28 99.72 141.97 99.72 141.97 99.72 141.97 99.73 141.97 99.73 141.97 101.73 141.63 103.72 141.28 103.72 141.28 103.73 141.28 103.73 141.28 103.73 141.28 105.73 140.91 107.72 140.52 107.72 140.52 107.72 140.52 107.73 140.52 107.73 140.52 109.71 140.11 111.70 139.69 111.70 139.69 111.70 139.69 111.71 139.69 111.71 139.69 113.69 139.24 115.67 138.78 113.77 130.85 113.77 130.85 113.77 130.85 115.66 130.38 117.56 129.89 117.56 129.89 117.56 129.89 117.57 129.89 117.57 129.89 119.46 129.39 121.35 128.86 119.12 120.98 119.12 120.98 119.12 120.98 119.12 120.97 119.12 120.97 116.88 113.08 116.88 113.08 116.88 113.08 118.60 112.58 120.34 112.06 117.91 104.18 117.91 104.18 117.91 104.17 117.91 104.17 117.91 104.17 115.47 96.28 115.47 96.28 115.47 96.28 117.03 95.78 118.60 95.27 115.97 87.39 115.97 87.39 115.97 87.39 117.45 86.89 118.94 86.37 116.13 78.52 116.13 78.52 116.13 78.52 117.52 78.01 118.91 77.49 115.91 69.66 114.60 70.16 113.29 70.64 110.43 62.75 110.43 62.75 110.42 62.75 110.42 62.74 110.42 62.74 107.53 54.84 107.53 54.84 107.53 54.83 107.53 54.83 107.53 54.83 104.61 46.89 104.61 46.89 104.61 46.89 105.68 46.49 106.76 46.08 103.65 38.17 103.65 38.17 103.65 38.17 104.63 37.77 105.62 37.37 102.31 29.49 102.31 29.49 102.31 29.49 103.20 29.11 104.09 28.72 104.09 28.72 104.09 28.72 104.10 28.72 104.10 28.72 104.98 28.32 105.86 27.91 105.86 27.91 105.87 27.90 105.87 27.90 105.87 27.90 106.75 27.48 107.63 27.05 103.80 19.36 103.80 19.36 103.80 19.36 103.80 19.35 103.80 19.35 99.93 11.64 99.21 12.00 98.49 12.35 97.77 12.69 97.04 13.02 96.32 13.34 95.58 13.66 94.85 13.97 94.11 14.27 93.37 14.57 92.63 14.85 91.88 15.13 91.13 15.40 88.23 7.26 87.56 7.50 86.89 7.73 86.22 7.95 85.55 8.16 84.87 8.37 84.19 8.57 83.51 8.76 82.84 8.94 80.60 0.57 80.60 0.57 80.60 0.57 80.60 0.56 80.60 0.56 80.18 -1.00 72.94 -1.00 73.36 2.02 72.75 2.10 72.14 2.18 71.53 2.24 70.92 2.31 70.31 2.36 69.70 2.41 69.08 2.45 68.47 2.49 67.86 2.51 67.24 2.54 66.63 2.55 66.01 2.56 65.40 2.57 64.79 2.56 64.17 2.55 63.56 2.54 62.94 2.51 62.33 2.49 61.72 2.45 61.10 2.41 60.49 2.36 59.88 2.31 59.27 2.24 58.65 2.18 57.66 10.78 56.96 10.70 56.26 10.61 55.57 10.51 54.87 10.40 54.17 10.29 53.48 10.17 52.78 10.04 52.09 9.91 51.40 9.76 50.71 9.61 50.02 9.46 49.34 9.29 48.65 9.12 47.97 8.94 47.29 8.76 46.61 8.57 45.93 8.37 45.25 8.16 44.58 7.95 43.91 7.73 43.24 7.50 42.57 7.26 41.91 7.02 41.25 6.77 40.59 6.52 39.93 6.26 39.28 5.99 38.62 5.71 35.21 13.66 34.48 13.34 33.76 13.02 33.03 12.69 32.31 12.35 31.59 12.00 30.88 11.65 34.78 3.92 37.28 -1.00 -1.00 -1.00 -1.00 21.53ZM123.70 145.12 121.66 145.66 119.61 146.18 117.55 146.68 119.42 154.57 117.30 155.06 115.16 155.54 116.87 163.45 119.08 162.96 121.28 162.46 123.12 170.32 125.40 169.78 127.66 169.21 129.63 177.04 131.60 176.53 131.60 165.82 130.07 160.22 130.07 160.22 130.07 160.22 131.60 159.79 131.60 149.39 129.82 143.39 127.78 143.99 125.74 144.57Z" fill="#fff" fill-rule="evenodd"/></mask><g mask="url(#mC)"><rect x="-1" y="-1" width="132.6" height="222.1" fill="#D22A2A"/><path d="M121.28 162.46 121.28 162.46 121.28 162.46 121.29 162.45 121.29 162.45 123.49 161.93 125.68 161.38 127.66 169.21 127.66 169.21 127.08 169.36 129.20 177.77 132.20 177.00 132.20 165.74 130.81 160.64 132.20 160.25 132.20 149.31 130.22 142.65 127.61 143.41 125.58 143.99 123.55 144.54 121.51 145.08 119.46 145.60 116.83 146.24 118.70 154.12 117.16 154.48 114.44 155.08 116.41 164.17 119.21 163.55 120.83 163.18 120.83 163.18 121.42 163.04 121.28 162.46 119.08 162.96ZM-1.60 32.70 -1.09 33.07 -1.60 33.79 -1.60 44.64 4.09 35.87 8.78 28.70 13.17 22.03 13.49 22.24 14.83 23.09 19.45 15.81 19.70 15.96 20.98 16.75 25.48 9.37 25.66 9.47 25.83 9.57 25.83 9.57 26.36 9.88 27.05 10.28 27.22 10.38 27.22 10.38 27.76 10.68 28.46 11.07 28.63 11.16 28.63 11.17 29.17 11.45 29.88 11.82 30.06 11.91 26.73 18.55 26.49 18.42 25.70 18.01 24.92 17.60 23.62 16.88 19.47 24.42 19.15 24.24 17.78 23.46 13.51 30.90 13.51 30.90 13.21 31.42 9.28 38.32 9.28 38.32 8.98 38.85 4.49 46.79 6.11 47.69 6.68 47.99 3.24 54.41 3.24 54.41 2.96 54.94 -1.29 62.94 0.51 63.87 1.23 64.24 1.22 64.24 1.77 64.52 3.03 65.15 3.76 65.50 3.76 65.50 4.31 65.77 5.58 66.37 6.32 66.70 6.31 66.71 6.87 66.96 8.15 67.54 8.89 67.86 8.89 67.86 9.45 68.10 10.75 68.65 11.49 68.96 11.49 68.96 12.06 69.19 13.36 69.72 14.11 70.01 14.11 70.01 14.68 70.23 15.99 70.73 16.74 71.00 16.74 71.01 17.32 71.21 18.64 71.68 19.40 71.95 16.72 79.87 18.70 80.53 19.55 80.80 19.55 80.81 20.13 80.99 21.54 81.43 22.39 81.68 20.05 89.67 22.14 90.27 23.07 90.53 21.23 97.37 21.23 97.37 21.07 97.95 19.10 105.34 19.10 105.34 18.94 105.93 16.67 114.47 19.01 115.08 20.17 115.37 18.52 122.17 18.52 122.17 18.37 122.76 16.31 131.29 18.81 131.88 20.13 132.18 18.64 138.96 18.64 138.96 18.51 139.56 16.90 146.90 16.90 146.90 16.77 147.50 15.18 154.82 15.17 154.82 15.05 155.42 13.21 163.91 16.02 164.50 17.65 164.83 16.10 172.75 19.00 173.30 20.70 173.61 19.52 180.34 19.52 180.34 19.42 180.94 17.94 189.43 20.99 189.95 22.84 190.24 21.62 198.16 24.75 198.62 26.68 198.89 25.61 206.81 28.81 207.22 30.81 207.47 30.81 207.47 31.42 207.54 34.02 207.83 36.03 208.04 36.03 208.04 36.64 208.10 39.24 208.34 41.25 208.51 40.61 216.45 43.90 216.70 45.98 216.83 45.98 216.84 46.59 216.88 49.27 217.03 52.56 217.19 52.91 209.24 54.93 209.32 58.15 209.42 58.38 200.85 58.58 193.48 60.45 193.52 63.53 193.56 63.61 184.96 63.67 177.55 65.40 177.56 68.34 177.55 68.26 169.51 69.91 169.49 71.57 169.45 71.57 169.45 72.18 169.43 74.43 169.36 76.08 169.29 76.08 169.30 76.69 169.27 78.94 169.15 81.79 168.98 81.27 160.94 82.85 160.83 84.42 160.71 84.42 160.71 85.03 160.66 87.20 160.47 89.98 160.20 89.15 152.15 90.65 151.99 93.34 151.68 92.36 143.63 93.78 143.45 95.19 143.25 95.19 143.25 95.80 143.17 97.81 142.87 99.22 142.65 99.22 142.66 99.83 142.56 101.83 142.23 103.24 141.98 103.24 141.98 103.84 141.87 105.84 141.50 107.25 141.23 107.25 141.23 107.84 141.11 109.84 140.70 111.24 140.40 111.24 140.40 111.84 140.27 113.82 139.83 116.40 139.22 114.49 131.29 115.81 130.96 117.13 130.62 117.13 130.63 117.72 130.47 119.61 129.97 122.09 129.28 119.87 121.40 119.87 121.40 119.70 120.81 117.62 113.49 118.77 113.16 121.09 112.46 118.66 104.58 118.66 104.58 118.48 103.99 116.22 96.67 117.21 96.35 119.36 95.65 116.73 87.77 117.65 87.46 119.70 86.74 116.89 78.88 117.73 78.57 119.69 77.84 116.26 68.88 114.39 69.59 113.65 69.87 111.20 63.11 111.20 63.11 110.99 62.54 108.30 55.20 108.31 55.20 108.09 54.62 105.38 47.25 105.90 47.05 107.54 46.42 104.42 38.50 104.86 38.33 106.40 37.69 103.09 29.81 103.44 29.66 103.79 29.51 103.79 29.51 104.34 29.26 105.23 28.86 105.58 28.70 105.58 28.70 106.13 28.44 107.01 28.02 108.44 27.33 104.61 19.63 104.61 19.63 104.34 19.08 100.20 10.84 98.95 11.46 98.23 11.80 97.52 12.14 96.80 12.47 96.07 12.79 95.35 13.11 94.62 13.42 93.89 13.72 93.15 14.01 92.41 14.29 91.67 14.57 91.50 14.63 88.59 6.50 87.36 6.93 86.70 7.16 86.03 7.38 85.37 7.59 84.70 7.79 84.03 7.99 83.35 8.18 83.26 8.21 81.34 1.00 81.34 1.00 81.18 0.41 80.64 -1.60 72.26 -1.60 72.68 1.51 72.68 1.51 72.08 1.58 71.47 1.65 70.87 1.71 70.26 1.76 69.65 1.81 69.05 1.85 68.44 1.89 67.83 1.91 67.22 1.94 66.62 1.95 66.01 1.96 65.40 1.97 64.79 1.96 64.18 1.95 63.58 1.94 62.97 1.91 62.36 1.89 61.75 1.85 61.15 1.81 60.54 1.76 59.93 1.71 59.33 1.65 58.12 1.51 57.13 10.11 57.04 10.10 56.34 10.01 55.65 9.91 54.96 9.81 54.27 9.70 53.58 9.58 52.90 9.45 52.21 9.32 51.52 9.18 50.84 9.03 50.16 8.87 49.48 8.71 48.80 8.54 48.12 8.36 47.45 8.18 46.77 7.99 46.10 7.79 45.43 7.59 44.77 7.38 44.10 7.16 43.44 6.93 42.78 6.70 42.12 6.46 41.46 6.21 40.81 5.96 40.16 5.70 39.51 5.43 38.31 4.92 34.90 12.87 34.73 12.79 34.00 12.47 33.28 12.14 32.57 11.80 31.85 11.46 31.69 11.38 35.32 4.19 38.26 -1.60 -1.60 -1.60 -1.60 21.81 -1.23 22.12 -1.60 22.58Z" fill="#FF2800" fill-rule="evenodd"/><path d="M121.28 162.46 121.28 162.46 121.28 162.46 121.29 162.45 121.29 162.45 123.49 161.93 125.68 161.38 125.68 161.38 125.68 161.38 125.69 161.38 125.69 161.38 127.88 160.81 130.06 160.22 130.06 160.22 130.07 160.22 130.07 160.22 130.07 160.22 130.23 160.80 130.23 160.80 132.20 160.25 132.20 149.31 130.22 142.65 127.61 143.41 125.58 143.99 123.55 144.54 121.51 145.08 119.46 145.60 116.83 146.24 118.70 154.12 117.16 154.48 114.44 155.08 116.41 164.17 119.21 163.55 120.83 163.18 120.83 163.18 121.42 163.04 121.28 162.46 119.08 162.96ZM127.66 169.21 127.08 169.36 129.20 177.77 132.20 177.00 132.20 167.39 131.60 167.55 131.60 168.17 129.93 168.62 127.66 169.21ZM-1.60 32.70 -1.09 33.07 -1.60 33.79 -1.60 44.64 4.09 35.87 8.78 28.70 13.17 22.03 13.49 22.24 14.83 23.09 19.45 15.81 19.70 15.96 20.98 16.75 25.48 9.37 25.66 9.47 25.83 9.57 25.83 9.57 26.36 9.88 27.05 10.28 27.22 10.38 27.22 10.38 27.76 10.68 28.46 11.07 28.63 11.16 28.63 11.17 29.17 11.45 29.88 11.82 30.06 11.91 26.73 18.55 26.49 18.42 25.70 18.01 24.92 17.60 23.62 16.88 19.47 24.42 19.15 24.24 17.78 23.46 13.51 30.90 13.51 30.90 13.21 31.42 9.28 38.32 9.28 38.32 8.98 38.85 4.49 46.79 6.11 47.69 6.68 47.99 3.24 54.41 3.24 54.41 2.96 54.94 -1.29 62.94 0.51 63.87 1.23 64.24 1.22 64.24 1.77 64.52 3.03 65.15 3.76 65.50 3.76 65.50 4.31 65.77 5.58 66.37 6.32 66.70 6.31 66.71 6.87 66.96 8.15 67.54 8.89 67.86 8.89 67.86 9.45 68.10 10.75 68.65 11.49 68.96 11.49 68.96 12.06 69.19 13.36 69.72 14.11 70.01 14.11 70.01 14.68 70.23 15.99 70.73 16.74 71.00 16.74 71.01 17.32 71.21 18.64 71.68 19.40 71.95 16.72 79.87 18.70 80.53 19.55 80.80 19.55 80.81 20.13 80.99 21.54 81.43 22.39 81.68 20.05 89.67 22.14 90.27 23.07 90.53 21.23 97.37 21.23 97.37 21.07 97.95 19.10 105.34 19.10 105.34 18.94 105.93 16.67 114.47 19.01 115.08 20.17 115.37 18.52 122.17 18.52 122.17 18.37 122.76 16.31 131.29 18.81 131.88 20.13 132.18 18.64 138.96 18.64 138.96 18.51 139.56 16.90 146.90 16.90 146.90 16.77 147.50 15.18 154.82 15.17 154.82 15.05 155.42 13.21 163.91 16.02 164.50 17.65 164.83 16.10 172.75 19.00 173.30 20.70 173.61 19.52 180.34 19.52 180.34 19.42 180.94 17.94 189.43 20.99 189.95 22.84 190.24 21.62 198.16 24.75 198.62 26.68 198.89 25.61 206.81 28.81 207.22 30.81 207.47 30.81 207.47 31.42 207.54 34.02 207.83 36.03 208.04 36.03 208.04 36.64 208.10 39.24 208.34 41.25 208.51 40.61 216.45 43.90 216.70 45.98 216.83 45.98 216.84 46.59 216.88 49.27 217.03 52.56 217.19 52.91 209.24 54.93 209.32 58.15 209.42 58.38 200.85 58.58 193.48 60.45 193.52 63.53 193.56 63.61 184.96 63.67 177.55 65.40 177.56 68.34 177.55 68.26 169.51 69.91 169.49 71.57 169.45 71.57 169.45 72.18 169.43 74.43 169.36 76.08 169.29 76.08 169.30 76.69 169.27 78.94 169.15 81.79 168.98 81.27 160.94 82.85 160.83 84.42 160.71 84.42 160.71 85.03 160.66 87.20 160.47 89.98 160.20 89.15 152.15 90.65 151.99 93.34 151.68 92.36 143.63 93.78 143.45 95.19 143.25 95.19 143.25 95.80 143.17 97.81 142.87 99.22 142.65 99.22 142.66 99.83 142.56 101.83 142.23 103.24 141.98 103.24 141.98 103.84 141.87 105.84 141.50 107.25 141.23 107.25 141.23 107.84 141.11 109.84 140.70 111.24 140.40 111.24 140.40 111.84 140.27 113.82 139.83 116.40 139.22 114.49 131.29 115.81 130.96 117.13 130.62 117.13 130.63 117.72 130.47 119.61 129.97 122.09 129.28 119.87 121.40 119.87 121.40 119.70 120.81 117.62 113.49 118.77 113.16 121.09 112.46 118.66 104.58 118.66 104.58 118.48 103.99 116.22 96.67 117.21 96.35 119.36 95.65 116.73 87.77 117.65 87.46 119.70 86.74 116.89 78.88 117.73 78.57 119.69 77.84 116.26 68.88 114.39 69.59 113.65 69.87 111.20 63.11 111.20 63.11 110.99 62.54 108.30 55.20 108.31 55.20 108.09 54.62 105.38 47.25 105.90 47.05 107.54 46.42 104.42 38.50 104.86 38.33 106.40 37.69 103.09 29.81 103.44 29.66 103.79 29.51 103.79 29.51 104.34 29.26 105.23 28.86 105.58 28.70 105.58 28.70 106.13 28.44 107.01 28.02 108.44 27.33 104.61 19.63 104.61 19.63 104.34 19.08 100.20 10.84 98.95 11.46 98.23 11.80 97.52 12.14 96.80 12.47 96.07 12.79 95.35 13.11 94.62 13.42 93.89 13.72 93.15 14.01 92.41 14.29 91.67 14.57 91.50 14.63 88.59 6.50 87.36 6.93 86.70 7.16 86.03 7.38 85.37 7.59 84.70 7.79 84.03 7.99 83.35 8.18 83.26 8.21 81.34 1.00 81.34 1.00 81.18 0.41 80.64 -1.60 72.26 -1.60 72.68 1.51 72.68 1.51 72.08 1.58 71.47 1.65 70.87 1.71 70.26 1.76 69.65 1.81 69.05 1.85 68.44 1.89 67.83 1.91 67.22 1.94 66.62 1.95 66.01 1.96 65.40 1.97 64.79 1.96 64.18 1.95 63.58 1.94 62.97 1.91 62.36 1.89 61.75 1.85 61.15 1.81 60.54 1.76 59.93 1.71 59.33 1.65 58.12 1.51 57.13 10.11 57.04 10.10 56.34 10.01 55.65 9.91 54.96 9.81 54.27 9.70 53.58 9.58 52.90 9.45 52.21 9.32 51.52 9.18 50.84 9.03 50.16 8.87 49.48 8.71 48.80 8.54 48.12 8.36 47.45 8.18 46.77 7.99 46.10 7.79 45.43 7.59 44.77 7.38 44.10 7.16 43.44 6.93 42.78 6.70 42.12 6.46 41.46 6.21 40.81 5.96 40.16 5.70 39.51 5.43 38.31 4.92 34.90 12.87 34.73 12.79 34.00 12.47 33.28 12.14 32.57 11.80 31.85 11.46 31.69 11.38 35.32 4.19 38.26 -1.60 -1.60 -1.60 -1.60 21.81 -1.23 22.12 -1.60 22.58ZM107.53 54.83 107.53 54.83 107.53 54.83 107.53 54.84Z" fill="#FFDC28" fill-rule="evenodd"/><path d="M121.29 162.45 119.43 154.58 121.56 154.07 123.68 153.53 123.68 153.53 123.68 153.53 123.69 153.53 123.69 153.53 125.80 152.98 127.91 152.41 130.06 160.22 130.07 160.22 130.07 160.22 130.07 160.22 130.23 160.80 132.20 160.25 132.20 149.31 130.22 142.65 127.61 143.41 125.58 143.99 123.55 144.54 121.51 145.08 119.46 145.60 116.83 146.24 118.70 154.12 117.16 154.48 114.44 155.08 116.41 164.17 119.21 163.55 121.42 163.04 121.28 162.46ZM127.66 169.21 127.08 169.36 129.20 177.77 132.20 177.00 132.20 167.39 131.60 167.55 131.60 168.17 129.93 168.62 127.66 169.21ZM19.42 148.07 21.49 148.49 21.49 148.49 21.49 148.49 19.91 156.42 17.78 155.99 15.63 155.53 15.76 154.95 15.17 154.82 13.21 163.91 16.02 164.50 17.65 164.83 16.10 172.75 19.00 173.30 20.70 173.61 19.52 180.34 19.52 180.34 19.42 180.94 17.94 189.43 20.99 189.95 22.84 190.24 21.62 198.16 24.75 198.62 26.68 198.89 25.61 206.81 28.81 207.22 32.01 207.61 32.08 207.01 31.49 206.94 32.41 199.02 34.94 199.30 37.47 199.57 37.47 199.57 37.47 199.57 36.68 207.50 36.09 207.44 36.03 208.04 39.24 208.34 41.25 208.51 40.61 216.45 43.90 216.70 45.98 216.83 45.98 216.84 46.59 216.88 49.27 217.03 52.56 217.19 52.91 209.24 54.93 209.32 58.15 209.42 58.38 200.85 58.58 193.48 60.45 193.52 63.53 193.56 63.61 184.96 63.67 177.55 65.40 177.56 68.34 177.55 68.26 169.51 69.91 169.49 71.57 169.45 71.57 169.45 72.18 169.43 74.43 169.36 76.08 169.29 76.08 169.30 76.69 169.27 78.94 169.15 81.79 168.98 81.27 160.94 82.85 160.83 84.42 160.71 84.42 160.71 85.03 160.66 87.20 160.47 89.98 160.20 89.15 152.15 90.65 151.99 93.34 151.68 92.36 143.63 93.78 143.45 95.19 143.25 95.19 143.25 95.80 143.17 97.81 142.87 99.22 142.65 99.22 142.66 99.83 142.56 101.83 142.23 103.24 141.98 103.24 141.98 103.84 141.87 105.84 141.50 107.25 141.23 107.25 141.23 107.84 141.11 109.84 140.70 111.24 140.40 111.24 140.40 111.84 140.27 113.82 139.83 116.40 139.22 114.49 131.29 115.81 130.96 117.13 130.62 117.13 130.63 117.72 130.47 119.61 129.97 122.09 129.28 119.87 121.40 119.87 121.40 119.70 120.81 117.62 113.49 118.77 113.16 121.09 112.46 118.66 104.58 118.66 104.58 118.48 103.99 116.22 96.67 117.21 96.35 119.36 95.65 116.73 87.77 117.65 87.46 119.70 86.74 116.89 78.88 117.73 78.57 119.69 77.84 116.26 68.88 114.39 69.59 113.65 69.87 111.20 63.11 111.20 63.11 110.99 62.54 108.30 55.20 108.31 55.20 108.09 54.62 105.38 47.25 105.90 47.05 107.54 46.42 104.42 38.50 104.86 38.33 106.40 37.69 103.09 29.81 103.44 29.66 103.79 29.51 103.79 29.51 104.34 29.26 105.23 28.86 105.58 28.70 105.58 28.70 106.13 28.44 107.01 28.02 108.44 27.33 104.61 19.63 104.61 19.63 104.34 19.08 100.20 10.84 98.95 11.46 98.23 11.80 97.52 12.14 96.80 12.47 96.07 12.79 95.35 13.11 94.62 13.42 93.89 13.72 93.15 14.01 92.41 14.29 91.67 14.57 91.50 14.63 88.59 6.50 87.36 6.93 86.70 7.16 86.03 7.38 85.37 7.59 84.70 7.79 84.03 7.99 83.35 8.18 83.26 8.21 81.34 1.00 81.34 1.00 81.18 0.41 80.64 -1.60 72.26 -1.60 72.68 1.51 72.68 1.51 72.08 1.58 71.47 1.65 70.87 1.71 70.26 1.76 69.65 1.81 69.05 1.85 68.44 1.89 67.83 1.91 67.22 1.94 66.62 1.95 66.01 1.96 65.40 1.97 64.79 1.96 64.18 1.95 63.58 1.94 62.97 1.91 62.36 1.89 61.75 1.85 61.15 1.81 60.54 1.76 59.93 1.71 59.33 1.65 58.12 1.51 57.13 10.11 57.04 10.10 56.34 10.01 55.65 9.91 54.96 9.81 54.27 9.70 53.58 9.58 52.90 9.45 52.21 9.32 51.52 9.18 50.84 9.03 50.16 8.87 49.48 8.71 48.80 8.54 48.12 8.36 47.45 8.18 46.77 7.99 46.10 7.79 45.43 7.59 44.77 7.38 44.10 7.16 43.44 6.93 42.78 6.70 42.12 6.46 41.46 6.21 40.81 5.96 40.16 5.70 39.51 5.43 38.31 4.92 34.90 12.87 34.73 12.79 34.00 12.47 33.28 12.14 32.57 11.80 31.85 11.46 31.69 11.38 35.32 4.19 38.26 -1.60 -1.60 -1.60 -1.60 21.81 -1.23 22.12 -1.60 22.58 -1.60 32.70 -1.09 33.07 -1.60 33.79 -1.60 44.64 4.09 35.87 8.78 28.70 13.17 22.03 13.49 22.24 14.83 23.09 19.45 15.81 19.70 15.96 20.98 16.75 25.48 9.37 25.66 9.47 25.83 9.57 25.83 9.57 26.36 9.88 27.05 10.28 27.22 10.38 27.22 10.38 27.76 10.68 28.46 11.07 28.63 11.16 28.63 11.17 29.17 11.45 29.88 11.82 30.06 11.91 26.73 18.55 26.49 18.42 25.70 18.01 24.92 17.60 23.62 16.88 19.47 24.42 19.15 24.24 17.78 23.46 13.51 30.90 13.51 30.90 13.21 31.42 9.28 38.32 9.28 38.32 8.98 38.85 4.49 46.79 6.11 47.69 6.68 47.99 3.24 54.41 3.24 54.41 2.96 54.94 -1.29 62.94 0.51 63.87 1.23 64.24 1.22 64.24 1.77 64.52 3.03 65.15 3.76 65.50 3.76 65.50 4.31 65.77 5.58 66.37 6.32 66.70 6.31 66.71 6.87 66.96 8.15 67.54 8.89 67.86 8.89 67.86 9.45 68.10 10.75 68.65 11.49 68.96 11.49 68.96 12.06 69.19 13.36 69.72 14.11 70.01 14.11 70.01 14.68 70.23 15.99 70.73 16.74 71.00 16.74 71.01 17.32 71.21 18.64 71.68 19.40 71.95 16.72 79.87 18.70 80.53 19.55 80.80 19.55 80.81 20.13 80.99 21.54 81.43 22.39 81.68 20.05 89.67 22.14 90.27 23.07 90.53 21.23 97.37 21.23 97.37 21.07 97.95 19.10 105.34 19.10 105.34 18.94 105.93 16.67 114.47 19.01 115.08 20.17 115.37 18.52 122.17 18.52 122.17 18.37 122.76 16.31 131.29 18.81 131.88 20.13 132.18 18.64 138.96 18.64 138.96 18.51 139.56 16.64 148.09 17.23 148.21 17.36 147.62ZM36.69 207.50 36.69 207.50 36.69 207.50ZM31.48 206.94 31.48 206.94 31.48 206.94ZM17.36 147.62 17.36 147.61 17.36 147.61ZM15.63 155.54 15.63 155.54 15.63 155.54Z" fill="#AFDCF5" fill-rule="evenodd"/><path d="M121.29 162.45 119.43 154.58 121.56 154.07 123.68 153.53 123.68 153.53 123.68 153.53 123.69 153.53 123.69 153.53 125.80 152.98 127.91 152.41 127.91 152.41 127.91 152.41 127.92 152.40 127.92 152.40 130.03 151.81 131.60 151.35 131.60 151.98 132.20 151.80 132.20 149.31 130.22 142.65 127.61 143.41 125.58 143.99 123.55 144.54 121.51 145.08 119.46 145.60 116.83 146.24 118.70 154.12 117.16 154.48 114.44 155.08 116.41 164.17 119.21 163.55 121.42 163.04 121.28 162.46ZM127.66 169.21 127.08 169.36 129.20 177.77 132.20 177.00 132.20 167.39 131.60 167.55 131.60 168.17 129.93 168.62 127.66 169.21ZM3.37 1.95 4.00 2.59 4.00 2.59 4.00 2.60 4.00 2.60 4.00 2.60 4.63 3.24 5.27 3.87 5.27 3.87 5.27 3.87 -0.80 10.08 -1.00 9.88 -1.00 9.04 -1.60 8.45 -1.60 21.81 -1.23 22.12 -1.60 22.58 -1.60 32.70 -1.09 33.07 -1.60 33.79 -1.60 44.64 4.09 35.87 8.78 28.70 13.17 22.03 13.49 22.24 14.83 23.09 19.45 15.81 19.70 15.96 20.98 16.75 25.48 9.37 25.66 9.47 25.83 9.57 25.83 9.57 26.36 9.88 27.05 10.28 27.22 10.38 27.22 10.38 27.76 10.68 28.46 11.07 28.63 11.16 28.63 11.17 29.17 11.45 29.88 11.82 30.06 11.91 26.73 18.55 26.49 18.42 25.70 18.01 24.92 17.60 23.62 16.88 19.47 24.42 19.15 24.24 17.78 23.46 13.51 30.90 13.51 30.90 13.21 31.42 9.28 38.32 9.28 38.32 8.98 38.85 4.49 46.79 6.11 47.69 6.68 47.99 3.24 54.41 3.24 54.41 2.96 54.94 -1.29 62.94 0.51 63.87 1.23 64.24 1.22 64.24 1.77 64.52 3.03 65.15 3.76 65.50 3.76 65.50 4.31 65.77 5.58 66.37 6.32 66.70 6.31 66.71 6.87 66.96 8.15 67.54 8.89 67.86 8.89 67.86 9.45 68.10 10.75 68.65 11.49 68.96 11.49 68.96 12.06 69.19 13.36 69.72 14.11 70.01 14.11 70.01 14.68 70.23 15.99 70.73 16.74 71.00 16.74 71.01 17.32 71.21 18.64 71.68 19.40 71.95 16.72 79.87 18.70 80.53 19.55 80.80 19.55 80.81 20.13 80.99 21.54 81.43 22.39 81.68 20.05 89.67 22.14 90.27 23.07 90.53 21.23 97.37 21.23 97.37 21.07 97.95 19.10 105.34 19.10 105.34 18.94 105.93 16.67 114.47 19.01 115.08 20.17 115.37 20.17 115.37 20.76 115.51 20.90 114.93 20.90 114.93 20.91 114.93 20.91 114.93 22.65 115.35 24.41 115.75 24.41 115.75 24.41 115.75 22.62 123.74 20.79 123.33 18.96 122.89 19.10 122.31 18.52 122.17 16.31 131.29 18.81 131.88 20.13 132.18 18.64 138.96 18.64 138.96 18.51 139.56 16.64 148.09 17.23 148.21 17.36 147.62 19.42 148.07 21.49 148.49 21.49 148.49 21.49 148.49 19.91 156.42 19.91 156.42 19.91 156.43 19.91 156.43 19.91 156.43 18.36 164.35 18.36 164.35 18.35 164.35 18.35 164.36 17.77 164.24 17.76 164.24 16.10 172.75 19.00 173.30 20.70 173.61 19.52 180.34 19.52 180.34 19.42 180.94 17.94 189.43 20.99 189.95 23.43 190.34 23.52 189.74 23.52 189.74 23.52 189.74 23.53 189.75 24.76 181.82 27.14 182.18 29.51 182.52 29.51 182.52 29.51 182.52 28.43 190.46 30.88 190.78 33.34 191.08 33.34 191.08 33.34 191.08 33.35 191.08 33.35 191.08 35.80 191.36 38.25 191.62 38.25 191.62 38.25 191.62 37.47 199.57 40.00 199.80 42.53 200.02 42.53 200.02 42.53 200.02 41.89 207.96 41.89 207.96 41.89 207.96 41.89 207.97 41.30 207.91 41.30 207.92 40.61 216.45 43.90 216.70 45.98 216.83 45.98 216.84 46.59 216.88 49.27 217.03 52.56 217.19 52.91 209.24 54.93 209.32 58.15 209.42 58.38 200.85 58.58 193.48 60.45 193.52 63.53 193.56 63.61 184.96 63.67 177.55 65.40 177.56 68.34 177.55 68.26 169.51 69.91 169.49 71.57 169.45 71.57 169.45 72.18 169.43 74.43 169.36 76.08 169.29 76.08 169.30 76.69 169.27 78.94 169.15 81.79 168.98 81.27 160.94 82.85 160.83 84.42 160.71 84.42 160.71 85.03 160.66 87.20 160.47 89.98 160.20 89.15 152.15 90.65 151.99 93.34 151.68 92.36 143.63 93.78 143.45 95.19 143.25 95.19 143.25 95.80 143.17 97.81 142.87 99.22 142.65 99.22 142.66 99.83 142.56 101.83 142.23 103.24 141.98 103.24 141.98 103.84 141.87 105.84 141.50 107.25 141.23 107.25 141.23 107.84 141.11 109.84 140.70 111.24 140.40 111.24 140.40 111.84 140.27 113.82 139.83 116.40 139.22 114.49 131.29 115.81 130.96 117.13 130.62 117.13 130.63 117.72 130.47 119.61 129.97 122.09 129.28 119.87 121.40 119.87 121.40 119.70 120.81 117.62 113.49 118.77 113.16 121.09 112.46 118.66 104.58 118.66 104.58 118.48 103.99 116.22 96.67 117.21 96.35 119.36 95.65 116.73 87.77 117.65 87.46 119.70 86.74 116.89 78.88 117.73 78.57 119.69 77.84 116.26 68.88 114.39 69.59 113.65 69.87 111.20 63.11 111.20 63.11 110.99 62.54 108.30 55.20 108.31 55.20 108.09 54.62 105.38 47.25 105.90 47.05 107.54 46.42 104.42 38.50 104.86 38.33 106.40 37.69 103.09 29.81 103.44 29.66 103.79 29.51 103.79 29.51 104.34 29.26 105.23 28.86 105.58 28.70 105.58 28.70 106.13 28.44 107.01 28.02 108.44 27.33 104.61 19.63 104.61 19.63 104.34 19.08 100.20 10.84 98.95 11.46 98.23 11.80 97.52 12.14 96.80 12.47 96.07 12.79 95.35 13.11 94.62 13.42 93.89 13.72 93.15 14.01 92.41 14.29 91.67 14.57 91.50 14.63 88.59 6.50 87.36 6.93 86.70 7.16 86.03 7.38 85.37 7.59 84.70 7.79 84.03 7.99 83.35 8.18 83.26 8.21 81.34 1.00 81.34 1.00 81.18 0.41 80.64 -1.60 72.26 -1.60 72.68 1.51 72.68 1.51 72.08 1.58 71.47 1.65 70.87 1.71 70.26 1.76 69.65 1.81 69.05 1.85 68.44 1.89 67.83 1.91 67.22 1.94 66.62 1.95 66.01 1.96 65.40 1.97 64.79 1.96 64.18 1.95 63.58 1.94 62.97 1.91 62.36 1.89 61.75 1.85 61.15 1.81 60.54 1.76 59.93 1.71 59.33 1.65 58.12 1.51 57.13 10.11 57.04 10.10 56.34 10.01 55.65 9.91 54.96 9.81 54.27 9.70 53.58 9.58 52.90 9.45 52.21 9.32 51.52 9.18 50.84 9.03 50.16 8.87 49.48 8.71 48.80 8.54 48.12 8.36 47.45 8.18 46.77 7.99 46.10 7.79 45.43 7.59 44.77 7.38 44.10 7.16 43.44 6.93 42.78 6.70 42.12 6.46 41.46 6.21 40.81 5.96 40.16 5.70 39.51 5.43 38.31 4.92 34.90 12.87 34.73 12.79 34.00 12.47 33.28 12.14 32.57 11.80 31.85 11.46 31.69 11.38 35.32 4.19 38.26 -1.60 -1.60 -1.60 -1.60 6.23 -1.00 5.67 -1.00 4.84 2.76 1.30ZM111.49 88.81 110.00 89.25 107.67 81.28 107.67 81.28 107.67 81.28 109.08 80.85 110.49 80.42 112.98 88.35ZM25.03 165.56 22.81 165.18 24.22 157.23 25.64 149.27 27.08 141.28 29.07 141.63 31.08 141.97 32.38 133.93 33.69 125.89 35.54 126.18 37.39 126.45 37.39 126.45 37.39 126.45 36.23 134.52 36.23 134.52 36.23 134.52 36.23 134.53 36.23 134.53 35.09 142.56 35.09 142.56 35.09 142.57 35.09 142.57 35.09 142.57 33.95 150.59 31.87 150.29 29.79 149.96 28.51 157.96 30.67 158.30 32.83 158.61 32.83 158.61 32.83 158.61 31.71 166.59 31.71 166.59 31.71 166.59 31.71 166.60 31.71 166.60 30.61 174.56 28.31 174.23 26.01 173.88 27.26 165.92ZM33.23 117.51 35.00 117.81 35.00 117.81 35.00 117.81 33.68 125.88 31.84 125.56 29.99 125.24 31.47 117.20ZM31.27 108.80 32.95 109.12 32.95 109.12 32.95 109.12 31.46 117.18 29.70 116.85 27.94 116.50 29.58 108.46ZM26.29 124.53 24.68 132.53 22.77 132.13 20.86 131.72 22.63 123.75 24.46 124.15 26.29 124.53 26.29 124.53ZM20.85 131.73 20.85 131.73 20.85 131.73 20.85 131.73ZM18.96 122.90 18.96 122.90 18.96 122.89ZM17.36 147.62 17.36 147.61 17.36 147.61ZM27.35 198.37 27.35 198.38 27.35 198.38 27.35 198.38 26.76 198.30 25.61 206.81 28.81 207.22 32.01 207.61 32.08 207.01 31.49 206.94 32.41 199.01 29.88 198.70ZM31.48 206.94 31.48 206.94 31.48 206.94Z" fill="#FFF799" fill-rule="evenodd"/></g></g>
</defs>
<g transform="translate(185.65,70.2)"><use href="#fillA"/><use href="#lines"/></g>
<g transform="translate(383.45,70.2)"><use href="#fillA"/><use href="#lines"/></g>
<g transform="translate(185.65,399.4)"><use href="#fillC"/><use href="#lines"/></g>
<g transform="translate(383.45,399.4)"><use href="#lines"/></g>
<g><rect x="201.20" y="318.8" width="12.35" height="19.60" fill="#4010F0"/><rect x="213.50" y="318.8" width="12.35" height="19.60" fill="#4169E1"/><rect x="225.80" y="318.8" width="12.35" height="19.60" fill="#10A5FF"/><rect x="238.10" y="318.8" width="12.35" height="19.60" fill="#96CDEE"/><rect x="250.40" y="318.8" width="12.35" height="19.60" fill="#FFEC5C"/><rect x="262.70" y="318.8" width="12.35" height="19.60" fill="#FFA000"/><rect x="275.00" y="318.8" width="12.35" height="19.60" fill="#FF1E00"/><rect x="287.30" y="318.8" width="12.35" height="19.60" fill="#D22A2A"/></g>
<g stroke="#000" fill="none"><path d="M201.20 318.8V338.4M213.50 318.8V338.4M225.80 318.8V338.4M238.10 318.8V338.4M250.40 318.8V338.4M262.70 318.8V338.4M275.00 318.8V338.4M287.30 318.8V338.4M299.60 318.8V338.4" stroke-width="0.6"/><path d="M201.2 318.8H299.6" stroke-width="0.3"/><path d="M201.2 338.4H299.6" stroke-width="0.4"/></g>
<text transform="translate(201.20 350.55) scale(0.9653 1)" font-size="8.288" text-anchor="middle" stroke="#000" stroke-width="0.030">-53</text><text transform="translate(238.10 350.55) scale(0.9653 1)" font-size="8.288" text-anchor="middle" stroke="#000" stroke-width="0.030">-20</text><text transform="translate(262.70 350.55) scale(0.9653 1)" font-size="8.288" text-anchor="middle" stroke="#000" stroke-width="0.030">0</text><text transform="translate(299.60 350.55) scale(0.9653 1)" font-size="8.288" text-anchor="middle" stroke="#000" stroke-width="0.030">37.4</text>
<g><rect x="398.00" y="318.8" width="12.35" height="19.60" fill="#4010F0"/><rect x="410.30" y="318.8" width="12.35" height="19.60" fill="#4169E1"/><rect x="422.60" y="318.8" width="12.35" height="19.60" fill="#10A5FF"/><rect x="434.90" y="318.8" width="12.35" height="19.60" fill="#96CDEE"/><rect x="447.20" y="318.8" width="12.35" height="19.60" fill="#FFEC5C"/><rect x="459.50" y="318.8" width="12.35" height="19.60" fill="#FFA000"/><rect x="471.80" y="318.8" width="12.35" height="19.60" fill="#FF1E00"/><rect x="484.10" y="318.8" width="12.35" height="19.60" fill="#D22A2A"/></g>
<g stroke="#000" fill="none"><path d="M398.00 318.8V338.4M410.30 318.8V338.4M422.60 318.8V338.4M434.90 318.8V338.4M447.20 318.8V338.4M459.50 318.8V338.4M471.80 318.8V338.4M484.10 318.8V338.4M496.40 318.8V338.4" stroke-width="0.6"/><path d="M398.0 318.8H496.4" stroke-width="0.3"/><path d="M398.0 338.4H496.4" stroke-width="0.4"/></g>
<text transform="translate(398.00 350.55) scale(0.9653 1)" font-size="8.288" text-anchor="middle" stroke="#000" stroke-width="0.030">-53</text><text transform="translate(434.90 350.55) scale(0.9653 1)" font-size="8.288" text-anchor="middle" stroke="#000" stroke-width="0.030">-20</text><text transform="translate(459.50 350.55) scale(0.9653 1)" font-size="8.288" text-anchor="middle" stroke="#000" stroke-width="0.030">0</text><text transform="translate(496.40 350.55) scale(0.9653 1)" font-size="8.288" text-anchor="middle" stroke="#000" stroke-width="0.030">37.38</text>
<g><rect x="199.40" y="647.8" width="7.44" height="19.90" fill="#4010F0"/><rect x="206.79" y="647.8" width="7.44" height="19.90" fill="#1E32E6"/><rect x="214.17" y="647.8" width="7.44" height="19.90" fill="#4169E1"/><rect x="221.56" y="647.8" width="7.44" height="19.90" fill="#1E90FF"/><rect x="228.94" y="647.8" width="7.44" height="19.90" fill="#00BEFF"/><rect x="236.33" y="647.8" width="7.44" height="19.90" fill="#5FC3F5"/><rect x="243.71" y="647.8" width="7.44" height="19.90" fill="#AFDCF5"/><rect x="251.10" y="647.8" width="7.44" height="19.90" fill="#FFF799"/><rect x="258.49" y="647.8" width="7.44" height="19.90" fill="#FFDC28"/><rect x="265.87" y="647.8" width="7.44" height="19.90" fill="#FFAA00"/><rect x="273.26" y="647.8" width="7.44" height="19.90" fill="#FF7800"/><rect x="280.64" y="647.8" width="7.44" height="19.90" fill="#FF2800"/><rect x="288.03" y="647.8" width="7.44" height="19.90" fill="#E60000"/><rect x="295.41" y="647.8" width="7.44" height="19.90" fill="#D22A2A"/></g>
<g stroke="#000" fill="none"><path d="M199.40 647.8V667.7M206.79 647.8V667.7M214.17 647.8V667.7M221.56 647.8V667.7M228.94 647.8V667.7M236.33 647.8V667.7M243.71 647.8V667.7M251.10 647.8V667.7M258.49 647.8V667.7M265.87 647.8V667.7M273.26 647.8V667.7M280.64 647.8V667.7M288.03 647.8V667.7M295.41 647.8V667.7M302.80 647.8V667.7" stroke-width="0.6"/><path d="M199.4 647.8H302.8" stroke-width="0.3"/><path d="M199.4 667.7H302.8" stroke-width="0.4"/></g>
<text transform="translate(199.40 679.50) scale(0.9653 1)" font-size="8.288" text-anchor="middle" stroke="#000" stroke-width="0.030">-.51337</text><text transform="translate(228.94 679.50) scale(0.9653 1)" font-size="8.288" text-anchor="middle" stroke="#000" stroke-width="0.030">-.03</text><text transform="translate(251.10 679.50) scale(0.9653 1)" font-size="8.288" text-anchor="middle" stroke="#000" stroke-width="0.030">.00</text><text transform="translate(273.26 679.50) scale(0.9653 1)" font-size="8.288" text-anchor="middle" stroke="#000" stroke-width="0.030">.03</text><text transform="translate(302.80 679.50) scale(0.9653 1)" font-size="8.288" text-anchor="middle" stroke="#000" stroke-width="0.030">1.41431</text>
<text transform="translate(350.00 32.70) scale(0.9653 1)" font-size="19.995" text-anchor="middle" stroke="#000" stroke-width="0.232">MAM TV (C)</text>
<text transform="translate(250.65 56.60) scale(0.9653 1)" font-size="10.464" text-anchor="middle" stroke="#000" stroke-width="0.121">Myccost_ISSP585Clm50BgcCrop_kparams</text>
<text transform="translate(250.65 65.40) scale(0.9653 1)" font-size="10.464" text-anchor="middle" stroke="#000" stroke-width="0.121">(yrs 2015-2048)</text>
<text transform="translate(448.75 56.60) scale(0.9653 1)" font-size="10.464" text-anchor="middle" stroke="#000" stroke-width="0.121">Myccost_ISSP585Clm50BgcCrop_control</text>
<text transform="translate(448.75 65.40) scale(0.9653 1)" font-size="10.464" text-anchor="middle" stroke="#000" stroke-width="0.121">(yrs 2015-2048)</text>
<text transform="translate(250.85 385.15) scale(0.9653 1)" font-size="10.464" text-anchor="middle" stroke="#000" stroke-width="0.121">Myccost_ISSP585Clm50BgcCrop_kparams</text>
<text transform="translate(250.85 394.10) scale(0.9653 1)" font-size="10.464" text-anchor="middle" stroke="#000" stroke-width="0.121">- Myccost_ISSP585Clm50BgcCrop_control</text>
<text transform="translate(448.75 391.20) scale(0.9653 1)" font-size="10.515" text-anchor="middle" stroke="#000" stroke-width="0.122">T-Test of two Case means at each grid point</text>
<text transform="translate(471.10 673.00) scale(0.9653 1)" font-size="8.340" text-anchor="middle" stroke="#000" stroke-width="0.030">Cells are significant at 0.1 level</text>
</svg>
</body></html>
